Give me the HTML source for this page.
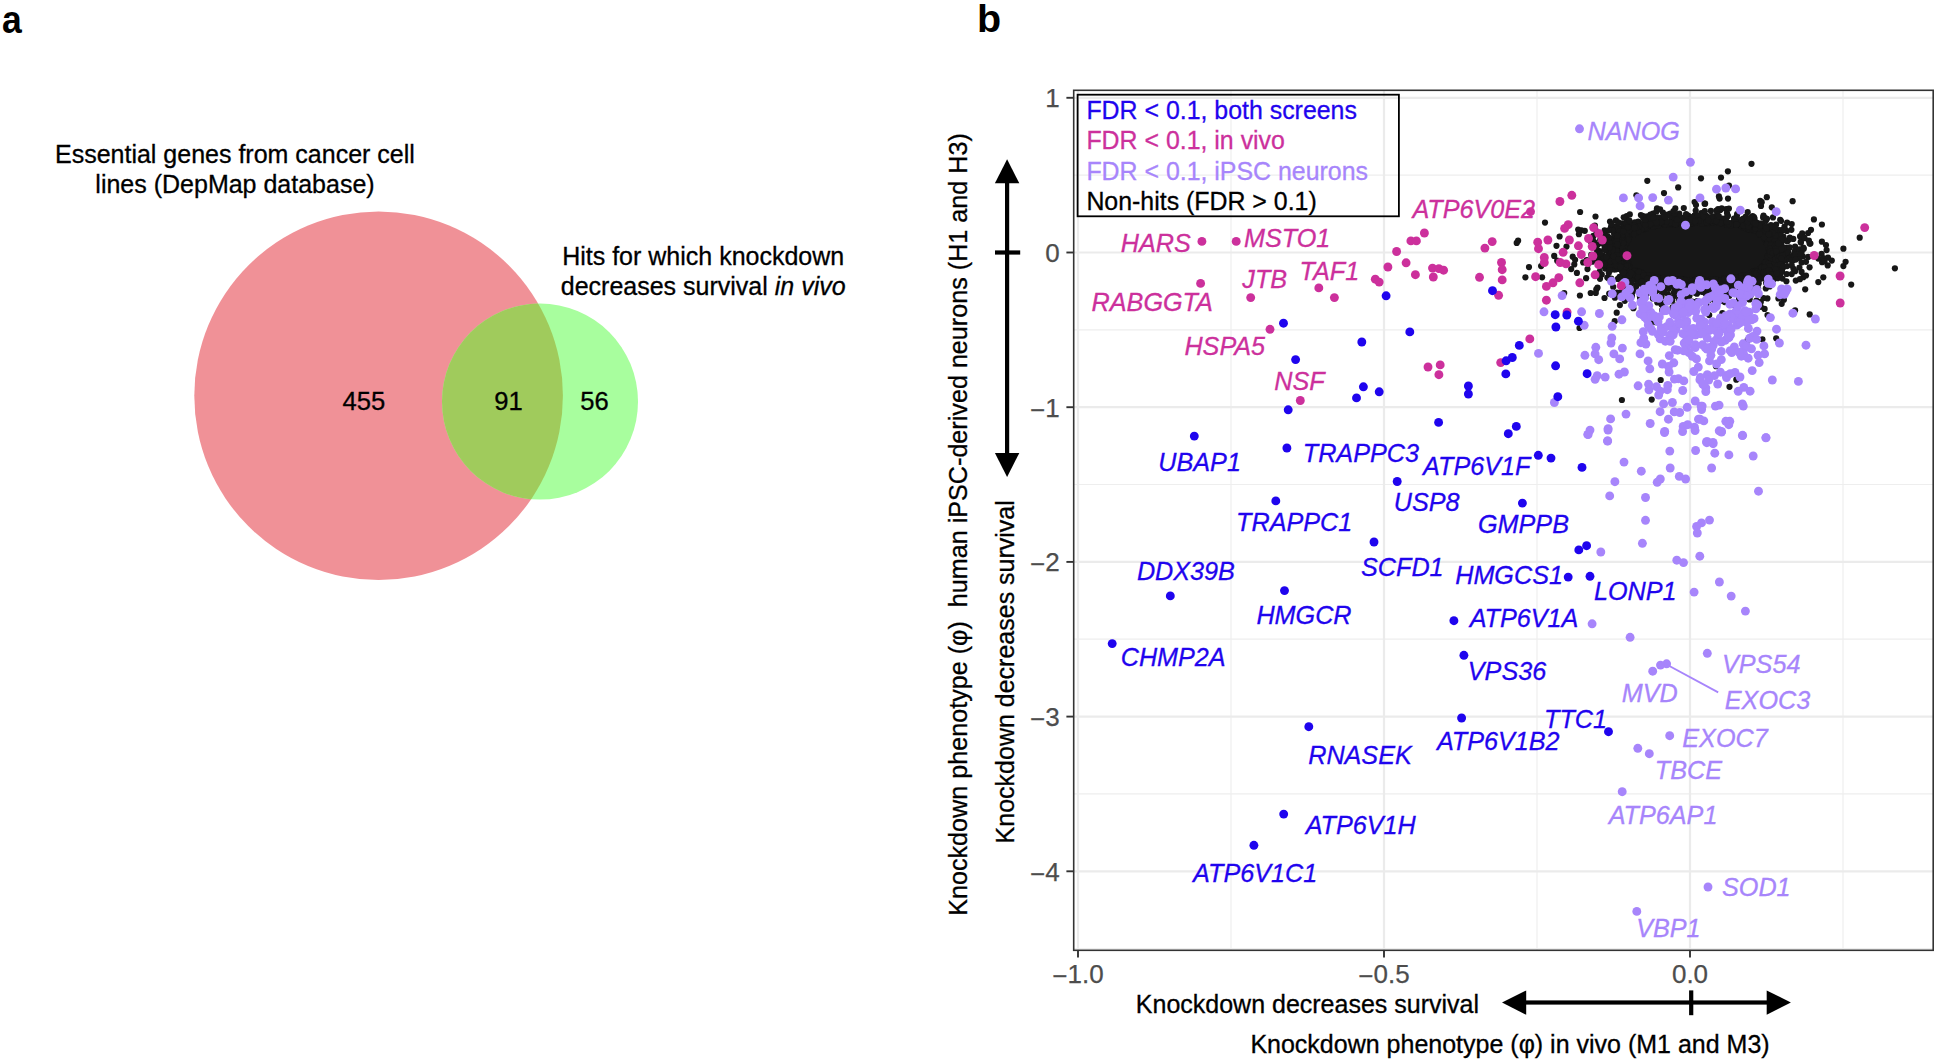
<!DOCTYPE html>
<html lang="en"><head><meta charset="utf-8"><title>Figure</title>
<style>
html,body{margin:0;padding:0;background:#fff;}
body{width:1937px;height:1061px;overflow:hidden;}
svg{display:block;}
text{font-family:"Liberation Sans",Arial,Helvetica,sans-serif;}
.lab{font-style:italic;font-size:25.2px;stroke-width:.3px;}
.ax{font-size:26px;fill:#4d4d4d;stroke:#4d4d4d;stroke-width:.25px;}
.t{font-size:25px;fill:#000;stroke:#000;stroke-width:.3px;}
.leg{font-size:24.9px;stroke-width:.3px;}
.pl{font-weight:bold;font-size:39.5px;fill:#000;}
.n{font-size:25.6px;fill:#000;stroke:#000;stroke-width:.3px;}
.k{fill:#171717;}
.p{fill:#a785fb;}
.m{fill:#cc309c;}
.b{fill:#1f04ee;}
</style></head><body>
<svg width="1937" height="1061" viewBox="0 0 1937 1061">
<rect width="1937" height="1061" fill="#fff"/>
<g id="venn">
<text class="pl" transform="translate(1.9 32.7) scale(0.9 1)">a</text>
<defs><clipPath id="cr"><circle cx="378.6" cy="395.8" r="184.3"/></clipPath></defs>
<circle cx="378.6" cy="395.8" r="184.3" fill="#f09197"/>
<circle cx="540.0" cy="401.6" r="98.0" fill="#a8fe9e"/>
<circle cx="540.0" cy="401.6" r="98.0" fill="#a0cb5c" clip-path="url(#cr)"/>
<text class="t" text-anchor="middle" x="234.9" y="163.3">Essential genes from cancer cell</text>
<text class="t" text-anchor="middle" x="235" y="192.5">lines (DepMap database)</text>
<text class="t" text-anchor="middle" x="703.2" y="265.3">Hits for which knockdown</text>
<text class="t" text-anchor="middle" x="703.2" y="294.5">decreases survival <tspan font-style="italic">in vivo</tspan></text>
<text class="n" text-anchor="middle" x="363.8" y="409.5">455</text>
<text class="n" text-anchor="middle" x="508.5" y="409.5">91</text>
<text class="n" text-anchor="middle" x="594.6" y="409.5">56</text>
</g>
<g id="scatter">
<text class="pl" x="976.9" y="32">b</text>
<g stroke="#eeeeee" stroke-width="1.2" fill="none">
<path d="M1231 90.3V950.3"/>
<path d="M1537 90.3V950.3"/>
<path d="M1843 90.3V950.3"/>
<path d="M1073.7 175.2H1933.2"/>
<path d="M1073.7 329.9H1933.2"/>
<path d="M1073.7 484.5H1933.2"/>
<path d="M1073.7 639.2H1933.2"/>
<path d="M1073.7 793.9H1933.2"/>
<path d="M1073.7 948.6H1933.2"/>
</g>
<g stroke="#ebebeb" stroke-width="2.2" fill="none">
<path d="M1078 90.3V950.3"/>
<path d="M1384 90.3V950.3"/>
<path d="M1690 90.3V950.3"/>
<path d="M1073.7 97.8H1933.2"/>
<path d="M1073.7 252.5H1933.2"/>
<path d="M1073.7 407.2H1933.2"/>
<path d="M1073.7 561.9H1933.2"/>
<path d="M1073.7 716.6H1933.2"/>
<path d="M1073.7 871.3H1933.2"/>
</g>
<g class="k">
<path d="M1770.9 251.5L1770.8 255.2L1770.3 257.8L1769.6 260.1L1768.7 262.2L1767.4 264.2L1765.9 266L1764.1 267.7L1762 269.3L1759.7 270.7L1757.1 272.1L1754.2 273.4L1751.1 274.5L1747.7 275.6L1744.1 276.5L1740.1 277.4L1735.9 278.2L1731.5 278.8L1726.6 279.3L1721.5 279.8L1715.8 280.1L1709.6 280.3L1702.1 280.4L1690.9 280.4L1683.4 280.3L1677.2 280.1L1671.5 279.8L1666.4 279.3L1661.5 278.8L1657.1 278.2L1652.9 277.4L1648.9 276.5L1645.3 275.6L1641.9 274.5L1638.8 273.4L1635.9 272.1L1633.3 270.7L1631 269.3L1628.9 267.7L1627.1 266L1625.6 264.2L1624.3 262.2L1623.4 260.1L1622.7 257.8L1622.2 255.2L1622.1 251.5L1622.2 247.8L1622.7 245.2L1623.4 242.9L1624.3 240.8L1625.6 238.8L1627.1 237L1628.9 235.3L1631 233.7L1633.3 232.3L1635.9 230.9L1638.8 229.6L1641.9 228.5L1645.3 227.4L1648.9 226.5L1652.9 225.6L1657.1 224.8L1661.5 224.2L1666.4 223.7L1671.5 223.2L1677.2 222.9L1683.4 222.7L1690.9 222.6L1702.1 222.6L1709.6 222.7L1715.8 222.9L1721.5 223.2L1726.6 223.7L1731.5 224.2L1735.9 224.8L1740.1 225.6L1744.1 226.5L1747.7 227.4L1751.1 228.5L1754.2 229.6L1757.1 230.9L1759.7 232.3L1762 233.7L1764.1 235.3L1765.9 237L1767.4 238.8L1768.7 240.8L1769.6 242.9L1770.3 245.2L1770.8 247.8Z"/>
<circle cx="1624.5" cy="272.3" r="3.1"/>
<circle cx="1695.4" cy="223" r="3.1"/>
<circle cx="1726.2" cy="209" r="3.1"/>
<circle cx="1755.8" cy="229.5" r="3.1"/>
<circle cx="1683.4" cy="220.7" r="3.1"/>
<circle cx="1755.2" cy="227.1" r="3.1"/>
<circle cx="1621.3" cy="233.3" r="3.1"/>
<circle cx="1760.1" cy="224.4" r="3.1"/>
<circle cx="1615.9" cy="269.2" r="3.1"/>
<circle cx="1650.4" cy="225.2" r="3.1"/>
<circle cx="1635.6" cy="279.2" r="3.1"/>
<circle cx="1625.7" cy="258.8" r="3.1"/>
<circle cx="1768.5" cy="241.6" r="3.1"/>
<circle cx="1667.4" cy="214.7" r="3.1"/>
<circle cx="1713.6" cy="219.5" r="3.1"/>
<circle cx="1780.9" cy="269.4" r="3.1"/>
<circle cx="1771.9" cy="229.8" r="3.1"/>
<circle cx="1620.5" cy="261.6" r="3.1"/>
<circle cx="1788.2" cy="252.1" r="3.1"/>
<circle cx="1615.5" cy="255" r="3.1"/>
<circle cx="1701.3" cy="213.2" r="3.1"/>
<circle cx="1671.6" cy="224.3" r="3.1"/>
<circle cx="1716.3" cy="218.3" r="3.1"/>
<circle cx="1651" cy="217.6" r="3.1"/>
<circle cx="1604.7" cy="234.4" r="3.1"/>
<circle cx="1772.5" cy="280.1" r="3.1"/>
<circle cx="1628.2" cy="274.4" r="3.1"/>
<circle cx="1622.1" cy="223.3" r="3.1"/>
<circle cx="1615.7" cy="245.9" r="3.1"/>
<circle cx="1744.3" cy="225.9" r="3.1"/>
<circle cx="1694.5" cy="279.2" r="3.1"/>
<circle cx="1673.6" cy="285.7" r="3.1"/>
<circle cx="1617.1" cy="261.1" r="3.1"/>
<circle cx="1641.5" cy="283.9" r="3.1"/>
<circle cx="1772.4" cy="253.5" r="3.1"/>
<circle cx="1636.1" cy="270.1" r="3.1"/>
<circle cx="1726.5" cy="283.7" r="3.1"/>
<circle cx="1723.3" cy="220.2" r="3.1"/>
<circle cx="1659.2" cy="224.2" r="3.1"/>
<circle cx="1620.2" cy="244.1" r="3.1"/>
<circle cx="1608.6" cy="251.8" r="3.1"/>
<circle cx="1657.1" cy="225.7" r="3.1"/>
<circle cx="1698.3" cy="279.4" r="3.1"/>
<circle cx="1778.7" cy="247.9" r="3.1"/>
<circle cx="1654.2" cy="222.5" r="3.1"/>
<circle cx="1762" cy="270.2" r="3.1"/>
<circle cx="1659.6" cy="222.1" r="3.1"/>
<circle cx="1617.6" cy="256.5" r="3.1"/>
<circle cx="1608.2" cy="260.3" r="3.1"/>
<circle cx="1655.3" cy="285.6" r="3.1"/>
<circle cx="1767.3" cy="256.8" r="3.1"/>
<circle cx="1726.9" cy="224.4" r="3.1"/>
<circle cx="1741.3" cy="275.9" r="3.1"/>
<circle cx="1766.4" cy="265.1" r="3.1"/>
<circle cx="1730.6" cy="224.9" r="3.1"/>
<circle cx="1601.5" cy="262.4" r="3.1"/>
<circle cx="1770.3" cy="252.6" r="3.1"/>
<circle cx="1711" cy="279.1" r="3.1"/>
<circle cx="1740.6" cy="280.7" r="3.1"/>
<circle cx="1653.9" cy="276.5" r="3.1"/>
<circle cx="1636.6" cy="227.5" r="3.1"/>
<circle cx="1615.9" cy="232.1" r="3.1"/>
<circle cx="1766.4" cy="240.5" r="3.1"/>
<circle cx="1731.4" cy="225.1" r="3.1"/>
<circle cx="1736.9" cy="283.9" r="3.1"/>
<circle cx="1653.2" cy="276.5" r="3.1"/>
<circle cx="1673.8" cy="224.3" r="3.1"/>
<circle cx="1769.2" cy="254.5" r="3.1"/>
<circle cx="1721.2" cy="282.5" r="3.1"/>
<circle cx="1773.5" cy="243.8" r="3.1"/>
<circle cx="1756" cy="274.3" r="3.1"/>
<circle cx="1768.6" cy="247.8" r="3.1"/>
<circle cx="1733.1" cy="285.8" r="3.1"/>
<circle cx="1743.1" cy="227.2" r="3.1"/>
<circle cx="1741.5" cy="276.7" r="3.1"/>
<circle cx="1605" cy="259.7" r="3.1"/>
<circle cx="1766.1" cy="262.3" r="3.1"/>
<circle cx="1616.6" cy="252.3" r="3.1"/>
<circle cx="1655.8" cy="278.9" r="3.1"/>
<circle cx="1703.4" cy="280.6" r="3.1"/>
<circle cx="1822.1" cy="262.2" r="3.1"/>
<circle cx="1616.8" cy="247.6" r="3.1"/>
<circle cx="1683" cy="282.3" r="3.1"/>
<circle cx="1649.9" cy="217.9" r="3.1"/>
<circle cx="1753.5" cy="271.8" r="3.1"/>
<circle cx="1666.8" cy="222" r="3.1"/>
<circle cx="1728.6" cy="284.3" r="3.1"/>
<circle cx="1656.6" cy="277.8" r="3.1"/>
<circle cx="1684.4" cy="221" r="3.1"/>
<circle cx="1754" cy="286.2" r="3.1"/>
<circle cx="1618.6" cy="236.6" r="3.1"/>
<circle cx="1716.2" cy="285.3" r="3.1"/>
<circle cx="1617.9" cy="278.9" r="3.1"/>
<circle cx="1625.5" cy="265.9" r="3.1"/>
<circle cx="1730.6" cy="279.4" r="3.1"/>
<circle cx="1625.3" cy="223.9" r="3.1"/>
<circle cx="1620.5" cy="232.8" r="3.1"/>
<circle cx="1760.8" cy="269.9" r="3.1"/>
<circle cx="1760.8" cy="227.6" r="3.1"/>
<circle cx="1636.3" cy="276.2" r="3.1"/>
<circle cx="1632.3" cy="231.6" r="3.1"/>
<circle cx="1740.8" cy="282" r="3.1"/>
<circle cx="1632.8" cy="230.6" r="3.1"/>
<circle cx="1722.1" cy="222.3" r="3.1"/>
<circle cx="1645.6" cy="228.3" r="3.1"/>
<circle cx="1649.4" cy="225.8" r="3.1"/>
<circle cx="1730.6" cy="277.8" r="3.1"/>
<circle cx="1778.3" cy="250.6" r="3.1"/>
<circle cx="1771.8" cy="265.1" r="3.1"/>
<circle cx="1662.2" cy="223.3" r="3.1"/>
<circle cx="1633.6" cy="272.1" r="3.1"/>
<circle cx="1728.4" cy="278.1" r="3.1"/>
<circle cx="1612.5" cy="260.2" r="3.1"/>
<circle cx="1636.8" cy="226.4" r="3.1"/>
<circle cx="1592" cy="259.3" r="3.1"/>
<circle cx="1617" cy="227" r="3.1"/>
<circle cx="1772" cy="243.8" r="3.1"/>
<circle cx="1748.3" cy="274.3" r="3.1"/>
<circle cx="1617.3" cy="257.4" r="3.1"/>
<circle cx="1768.1" cy="229.4" r="3.1"/>
<circle cx="1620.4" cy="277" r="3.1"/>
<circle cx="1775.2" cy="230.8" r="3.1"/>
<circle cx="1769.7" cy="254.6" r="3.1"/>
<circle cx="1773.4" cy="242.7" r="3.1"/>
<circle cx="1774.2" cy="276.3" r="3.1"/>
<circle cx="1605.2" cy="268.6" r="3.1"/>
<circle cx="1754.9" cy="228" r="3.1"/>
<circle cx="1728.7" cy="278.4" r="3.1"/>
<circle cx="1623.6" cy="235.4" r="3.1"/>
<circle cx="1783.4" cy="253.1" r="3.1"/>
<circle cx="1744.2" cy="226" r="3.1"/>
<circle cx="1665.7" cy="224" r="3.1"/>
<circle cx="1622.4" cy="267.9" r="3.1"/>
<circle cx="1751.7" cy="277.9" r="3.1"/>
<circle cx="1653.8" cy="226.6" r="3.1"/>
<circle cx="1612.1" cy="243.4" r="3.1"/>
<circle cx="1635.5" cy="223.4" r="3.1"/>
<circle cx="1593.4" cy="235.8" r="3.1"/>
<circle cx="1721.6" cy="221.4" r="3.1"/>
<circle cx="1741" cy="277.1" r="3.1"/>
<circle cx="1648.1" cy="221.4" r="3.1"/>
<circle cx="1597.7" cy="260.5" r="3.1"/>
<circle cx="1786.9" cy="251.2" r="3.1"/>
<circle cx="1760.2" cy="269.4" r="3.1"/>
<circle cx="1716.9" cy="280" r="3.1"/>
<circle cx="1724" cy="222.5" r="3.1"/>
<circle cx="1619.4" cy="232.8" r="3.1"/>
<circle cx="1735.5" cy="280.3" r="3.1"/>
<circle cx="1673.5" cy="282.5" r="3.1"/>
<circle cx="1764.8" cy="235.3" r="3.1"/>
<circle cx="1648.9" cy="224.4" r="3.1"/>
<circle cx="1629.2" cy="272.3" r="3.1"/>
<circle cx="1683.1" cy="221.3" r="3.1"/>
<circle cx="1703.7" cy="284.4" r="3.1"/>
<circle cx="1679.3" cy="213.7" r="3.1"/>
<circle cx="1598.4" cy="251" r="3.1"/>
<circle cx="1682.6" cy="286.7" r="3.1"/>
<circle cx="1619.9" cy="264.5" r="3.1"/>
<circle cx="1764.1" cy="271.1" r="3.1"/>
<circle cx="1690.7" cy="282.1" r="3.1"/>
<circle cx="1758.2" cy="275.3" r="3.1"/>
<circle cx="1763.2" cy="268.3" r="3.1"/>
<circle cx="1729.4" cy="295.8" r="3.1"/>
<circle cx="1781.4" cy="244.9" r="3.1"/>
<circle cx="1708.5" cy="286.2" r="3.1"/>
<circle cx="1691.5" cy="221.7" r="3.1"/>
<circle cx="1725.3" cy="219.2" r="3.1"/>
<circle cx="1718.7" cy="222.5" r="3.1"/>
<circle cx="1685.5" cy="220.4" r="3.1"/>
<circle cx="1757.1" cy="222.8" r="3.1"/>
<circle cx="1620.4" cy="265.1" r="3.1"/>
<circle cx="1743" cy="222.8" r="3.1"/>
<circle cx="1749.3" cy="223.9" r="3.1"/>
<circle cx="1648.4" cy="275.2" r="3.1"/>
<circle cx="1771.9" cy="237.5" r="3.1"/>
<circle cx="1770.7" cy="235.7" r="3.1"/>
<circle cx="1772.7" cy="242.3" r="3.1"/>
<circle cx="1633.7" cy="273" r="3.1"/>
<circle cx="1690.6" cy="223.7" r="3.1"/>
<circle cx="1712.3" cy="222.3" r="3.1"/>
<circle cx="1711.7" cy="219.9" r="3.1"/>
<circle cx="1751.6" cy="282.7" r="3.1"/>
<circle cx="1656.5" cy="278.7" r="3.1"/>
<circle cx="1769" cy="262.3" r="3.1"/>
<circle cx="1774.3" cy="235.9" r="3.1"/>
<circle cx="1679.6" cy="279.3" r="3.1"/>
<circle cx="1612.2" cy="258.1" r="3.1"/>
<circle cx="1607.1" cy="259.6" r="3.1"/>
<circle cx="1782.8" cy="261" r="3.1"/>
<circle cx="1632.8" cy="272.8" r="3.1"/>
<circle cx="1626.1" cy="283.5" r="3.1"/>
<circle cx="1642" cy="227.8" r="3.1"/>
<circle cx="1755.9" cy="273.9" r="3.1"/>
<circle cx="1660.1" cy="278" r="3.1"/>
<circle cx="1686" cy="280.6" r="3.1"/>
<circle cx="1773.4" cy="239.9" r="3.1"/>
<circle cx="1700.4" cy="281" r="3.1"/>
<circle cx="1618.4" cy="267.9" r="3.1"/>
<circle cx="1672.7" cy="279.4" r="3.1"/>
<circle cx="1629.9" cy="268.3" r="3.1"/>
<circle cx="1616.1" cy="260" r="3.1"/>
<circle cx="1668" cy="278.7" r="3.1"/>
<circle cx="1622.2" cy="275.6" r="3.1"/>
<circle cx="1634.5" cy="274.9" r="3.1"/>
<circle cx="1679.5" cy="281.1" r="3.1"/>
<circle cx="1793.5" cy="268.8" r="3.1"/>
<circle cx="1625" cy="245.5" r="3.1"/>
<circle cx="1767.7" cy="239.1" r="3.1"/>
<circle cx="1646.4" cy="224.3" r="3.1"/>
<circle cx="1619.1" cy="262.6" r="3.1"/>
<circle cx="1642.1" cy="228.4" r="3.1"/>
<circle cx="1775.6" cy="253.7" r="3.1"/>
<circle cx="1753.1" cy="271.9" r="3.1"/>
<circle cx="1769.1" cy="252.3" r="3.1"/>
<circle cx="1610" cy="221.5" r="3.1"/>
<circle cx="1610.2" cy="268.6" r="3.1"/>
<circle cx="1760.5" cy="270.1" r="3.1"/>
<circle cx="1784.1" cy="247.8" r="3.1"/>
<circle cx="1647.2" cy="216.3" r="3.1"/>
<circle cx="1727.1" cy="216.8" r="3.1"/>
<circle cx="1629.2" cy="265.9" r="3.1"/>
<circle cx="1763.8" cy="267.9" r="3.1"/>
<circle cx="1624.2" cy="259.5" r="3.1"/>
<circle cx="1752.7" cy="225.1" r="3.1"/>
<circle cx="1606.2" cy="248.7" r="3.1"/>
<circle cx="1731.4" cy="223.4" r="3.1"/>
<circle cx="1686.3" cy="218.7" r="3.1"/>
<circle cx="1688.1" cy="215.5" r="3.1"/>
<circle cx="1619.4" cy="260.6" r="3.1"/>
<circle cx="1777" cy="249.9" r="3.1"/>
<circle cx="1767" cy="272.2" r="3.1"/>
<circle cx="1743.6" cy="283.3" r="3.1"/>
<circle cx="1667.2" cy="282.1" r="3.1"/>
<circle cx="1598.1" cy="257.6" r="3.1"/>
<circle cx="1620.8" cy="238.3" r="3.1"/>
<circle cx="1769.2" cy="273.5" r="3.1"/>
<circle cx="1695" cy="282.1" r="3.1"/>
<circle cx="1781.8" cy="260.3" r="3.1"/>
<circle cx="1783.4" cy="236.7" r="3.1"/>
<circle cx="1638.3" cy="221.6" r="3.1"/>
<circle cx="1686.1" cy="281" r="3.1"/>
<circle cx="1765.9" cy="262.4" r="3.1"/>
<circle cx="1615.5" cy="253" r="3.1"/>
<circle cx="1696" cy="205" r="3.1"/>
<circle cx="1676.2" cy="223.7" r="3.1"/>
<circle cx="1704.1" cy="288" r="3.1"/>
<circle cx="1761" cy="276.9" r="3.1"/>
<circle cx="1620" cy="247" r="3.1"/>
<circle cx="1658.3" cy="277.2" r="3.1"/>
<circle cx="1635.2" cy="272.3" r="3.1"/>
<circle cx="1775.4" cy="247.9" r="3.1"/>
<circle cx="1634.8" cy="222.3" r="3.1"/>
<circle cx="1638.1" cy="271.7" r="3.1"/>
<circle cx="1718.1" cy="209" r="3.1"/>
<circle cx="1622.9" cy="263.6" r="3.1"/>
<circle cx="1766.9" cy="240.1" r="3.1"/>
<circle cx="1628.1" cy="228.5" r="3.1"/>
<circle cx="1639.1" cy="273.6" r="3.1"/>
<circle cx="1753.6" cy="228.2" r="3.1"/>
<circle cx="1804.5" cy="238.2" r="3.1"/>
<circle cx="1776.3" cy="247.5" r="3.1"/>
<circle cx="1680.3" cy="281.5" r="3.1"/>
<circle cx="1712.8" cy="222.3" r="3.1"/>
<circle cx="1769.8" cy="262.6" r="3.1"/>
<circle cx="1613.6" cy="239.3" r="3.1"/>
<circle cx="1592.2" cy="261.7" r="3.1"/>
<circle cx="1615.5" cy="226.6" r="3.1"/>
<circle cx="1640.9" cy="228.2" r="3.1"/>
<circle cx="1751" cy="277.4" r="3.1"/>
<circle cx="1701" cy="281.7" r="3.1"/>
<circle cx="1626.4" cy="266.4" r="3.1"/>
<circle cx="1793.3" cy="238.9" r="3.1"/>
<circle cx="1701.5" cy="219.1" r="3.1"/>
<circle cx="1624.6" cy="266.6" r="3.1"/>
<circle cx="1708.8" cy="281.1" r="3.1"/>
<circle cx="1623.4" cy="259.4" r="3.1"/>
<circle cx="1774.7" cy="263" r="3.1"/>
<circle cx="1603.9" cy="262.7" r="3.1"/>
<circle cx="1649.6" cy="283.1" r="3.1"/>
<circle cx="1642.2" cy="229.7" r="3.1"/>
<circle cx="1657" cy="208.3" r="3.1"/>
<circle cx="1774" cy="267" r="3.1"/>
<circle cx="1622.6" cy="229.7" r="3.1"/>
<circle cx="1727" cy="213" r="3.1"/>
<circle cx="1754.7" cy="277.7" r="3.1"/>
<circle cx="1622.8" cy="263.7" r="3.1"/>
<circle cx="1635.7" cy="271.2" r="3.1"/>
<circle cx="1769.8" cy="263.7" r="3.1"/>
<circle cx="1709.2" cy="217.6" r="3.1"/>
<circle cx="1627.6" cy="239" r="3.1"/>
<circle cx="1631.9" cy="277.2" r="3.1"/>
<circle cx="1717.1" cy="218" r="3.1"/>
<circle cx="1693.9" cy="284.1" r="3.1"/>
<circle cx="1768.3" cy="255.7" r="3.1"/>
<circle cx="1775.2" cy="247.7" r="3.1"/>
<circle cx="1702" cy="281.9" r="3.1"/>
<circle cx="1771.2" cy="252" r="3.1"/>
<circle cx="1681.9" cy="279.4" r="3.1"/>
<circle cx="1698.8" cy="216.8" r="3.1"/>
<circle cx="1675.2" cy="219" r="3.1"/>
<circle cx="1764.8" cy="268.4" r="3.1"/>
<circle cx="1653" cy="279.9" r="3.1"/>
<circle cx="1670.2" cy="213.6" r="3.1"/>
<circle cx="1591.2" cy="254.9" r="3.1"/>
<circle cx="1753.3" cy="224.7" r="3.1"/>
<circle cx="1616.4" cy="245.8" r="3.1"/>
<circle cx="1602" cy="257.5" r="3.1"/>
<circle cx="1773.4" cy="273.5" r="3.1"/>
<circle cx="1670.5" cy="223.3" r="3.1"/>
<circle cx="1641.1" cy="281.7" r="3.1"/>
<circle cx="1616.3" cy="254.8" r="3.1"/>
<circle cx="1644.4" cy="227.3" r="3.1"/>
<circle cx="1762.7" cy="266" r="3.1"/>
<circle cx="1770.5" cy="282.2" r="3.1"/>
<circle cx="1620.1" cy="257.8" r="3.1"/>
<circle cx="1759.8" cy="269.4" r="3.1"/>
<circle cx="1690" cy="283.8" r="3.1"/>
<circle cx="1753.4" cy="226" r="3.1"/>
<circle cx="1763.1" cy="268.2" r="3.1"/>
<circle cx="1767.8" cy="268.8" r="3.1"/>
<circle cx="1645.3" cy="225.2" r="3.1"/>
<circle cx="1715.9" cy="281.6" r="3.1"/>
<circle cx="1670.5" cy="223.4" r="3.1"/>
<circle cx="1740.9" cy="225.8" r="3.1"/>
<circle cx="1675.3" cy="208.4" r="3.1"/>
<circle cx="1716.2" cy="220.2" r="3.1"/>
<circle cx="1767.2" cy="271" r="3.1"/>
<circle cx="1649.8" cy="282.3" r="3.1"/>
<circle cx="1609.5" cy="268.3" r="3.1"/>
<circle cx="1683.2" cy="220.7" r="3.1"/>
<circle cx="1777.1" cy="261.9" r="3.1"/>
<circle cx="1649.8" cy="217.7" r="3.1"/>
<circle cx="1609.2" cy="279.1" r="3.1"/>
<circle cx="1618.3" cy="250.4" r="3.1"/>
<circle cx="1620" cy="231.6" r="3.1"/>
<circle cx="1611" cy="227" r="3.1"/>
<circle cx="1724.7" cy="220.1" r="3.1"/>
<circle cx="1739.5" cy="221.2" r="3.1"/>
<circle cx="1684.4" cy="279.6" r="3.1"/>
<circle cx="1631.5" cy="227.5" r="3.1"/>
<circle cx="1717.5" cy="217.5" r="3.1"/>
<circle cx="1777.3" cy="238" r="3.1"/>
<circle cx="1766.2" cy="267.9" r="3.1"/>
<circle cx="1767.5" cy="238.5" r="3.1"/>
<circle cx="1752.7" cy="216.1" r="3.1"/>
<circle cx="1610.1" cy="265.4" r="3.1"/>
<circle cx="1777.3" cy="272.7" r="3.1"/>
<circle cx="1619.6" cy="238.3" r="3.1"/>
<circle cx="1634.6" cy="279" r="3.1"/>
<circle cx="1756" cy="277.1" r="3.1"/>
<circle cx="1703.2" cy="222.5" r="3.1"/>
<circle cx="1684.5" cy="222.3" r="3.1"/>
<circle cx="1676.3" cy="220.4" r="3.1"/>
<circle cx="1627.7" cy="233.3" r="3.1"/>
<circle cx="1746.7" cy="226" r="3.1"/>
<circle cx="1755.3" cy="274" r="3.1"/>
<circle cx="1625.3" cy="238.4" r="3.1"/>
<circle cx="1768.6" cy="232.1" r="3.1"/>
<circle cx="1614.6" cy="244.6" r="3.1"/>
<circle cx="1751.2" cy="228.1" r="3.1"/>
<circle cx="1764.1" cy="235.5" r="3.1"/>
<circle cx="1760" cy="234.4" r="3.1"/>
<circle cx="1618.4" cy="249.7" r="3.1"/>
<circle cx="1705.2" cy="221.7" r="3.1"/>
<circle cx="1671.7" cy="282.1" r="3.1"/>
<circle cx="1651" cy="283.8" r="3.1"/>
<circle cx="1774.6" cy="270.4" r="3.1"/>
<circle cx="1624.9" cy="243.8" r="3.1"/>
<circle cx="1620.1" cy="239.2" r="3.1"/>
<circle cx="1730.2" cy="279.5" r="3.1"/>
<circle cx="1630.6" cy="229.5" r="3.1"/>
<circle cx="1694.7" cy="221.2" r="3.1"/>
<circle cx="1675" cy="220.9" r="3.1"/>
<circle cx="1734.2" cy="221.5" r="3.1"/>
<circle cx="1671.8" cy="281.8" r="3.1"/>
<circle cx="1768.2" cy="258.3" r="3.1"/>
<circle cx="1753" cy="271.9" r="3.1"/>
<circle cx="1706.3" cy="215.9" r="3.1"/>
<circle cx="1672" cy="214.1" r="3.1"/>
<circle cx="1718.9" cy="288.8" r="3.1"/>
<circle cx="1723.6" cy="283.4" r="3.1"/>
<circle cx="1617.9" cy="250.9" r="3.1"/>
<circle cx="1780.5" cy="233.9" r="3.1"/>
<circle cx="1767.8" cy="241.8" r="3.1"/>
<circle cx="1782.4" cy="230.3" r="3.1"/>
<circle cx="1779.1" cy="230.1" r="3.1"/>
<circle cx="1778.2" cy="254.6" r="3.1"/>
<circle cx="1736.5" cy="224.5" r="3.1"/>
<circle cx="1763.7" cy="268.3" r="3.1"/>
<circle cx="1685.3" cy="223" r="3.1"/>
<circle cx="1703.6" cy="279.2" r="3.1"/>
<circle cx="1683.2" cy="280.6" r="3.1"/>
<circle cx="1657.6" cy="224.5" r="3.1"/>
<circle cx="1726.3" cy="278.1" r="3.1"/>
<circle cx="1625.7" cy="243.4" r="3.1"/>
<circle cx="1676.9" cy="223.5" r="3.1"/>
<circle cx="1765.5" cy="228.2" r="3.1"/>
<circle cx="1616.7" cy="235.1" r="3.1"/>
<circle cx="1785" cy="259.8" r="3.1"/>
<circle cx="1623.8" cy="247.1" r="3.1"/>
<circle cx="1787.7" cy="241.1" r="3.1"/>
<circle cx="1751.4" cy="229.7" r="3.1"/>
<circle cx="1767.2" cy="240.7" r="3.1"/>
<circle cx="1765.3" cy="239.3" r="3.1"/>
<circle cx="1772.6" cy="244.5" r="3.1"/>
<circle cx="1774.5" cy="250.2" r="3.1"/>
<circle cx="1705.9" cy="285.6" r="3.1"/>
<circle cx="1604.4" cy="239.2" r="3.1"/>
<circle cx="1741" cy="281.2" r="3.1"/>
<circle cx="1771.5" cy="260.2" r="3.1"/>
<circle cx="1700.4" cy="279.4" r="3.1"/>
<circle cx="1641.5" cy="226.3" r="3.1"/>
<circle cx="1619.4" cy="253" r="3.1"/>
<circle cx="1657.6" cy="284.7" r="3.1"/>
<circle cx="1631.8" cy="232.2" r="3.1"/>
<circle cx="1638.4" cy="280.4" r="3.1"/>
<circle cx="1713.2" cy="219.7" r="3.1"/>
<circle cx="1622.3" cy="228.3" r="3.1"/>
<circle cx="1748.7" cy="284.4" r="3.1"/>
<circle cx="1745.8" cy="228.2" r="3.1"/>
<circle cx="1617.3" cy="250.3" r="3.1"/>
<circle cx="1616.3" cy="237.2" r="3.1"/>
<circle cx="1649.5" cy="224.5" r="3.1"/>
<circle cx="1715" cy="279.7" r="3.1"/>
<circle cx="1764.2" cy="264.1" r="3.1"/>
<circle cx="1691.4" cy="281.8" r="3.1"/>
<circle cx="1664.9" cy="220.5" r="3.1"/>
<circle cx="1665.5" cy="279.9" r="3.1"/>
<circle cx="1652" cy="223.1" r="3.1"/>
<circle cx="1613.5" cy="231.4" r="3.1"/>
<circle cx="1660.5" cy="224" r="3.1"/>
<circle cx="1760.1" cy="223.5" r="3.1"/>
<circle cx="1682" cy="281.2" r="3.1"/>
<circle cx="1610.4" cy="239.5" r="3.1"/>
<circle cx="1766.3" cy="242.1" r="3.1"/>
<circle cx="1750.6" cy="273.3" r="3.1"/>
<circle cx="1607.5" cy="236" r="3.1"/>
<circle cx="1725.2" cy="279.6" r="3.1"/>
<circle cx="1755.7" cy="271.2" r="3.1"/>
<circle cx="1763.9" cy="272.7" r="3.1"/>
<circle cx="1617.1" cy="252.1" r="3.1"/>
<circle cx="1619.4" cy="258.2" r="3.1"/>
<circle cx="1625.4" cy="268.7" r="3.1"/>
<circle cx="1583.2" cy="262.4" r="3.1"/>
<circle cx="1774.5" cy="234.2" r="3.1"/>
<circle cx="1767.8" cy="231.9" r="3.1"/>
<circle cx="1671.4" cy="217.7" r="3.1"/>
<circle cx="1654.8" cy="217.6" r="3.1"/>
<circle cx="1777.7" cy="270.1" r="3.1"/>
<circle cx="1623.1" cy="234.3" r="3.1"/>
<circle cx="1621.6" cy="241.8" r="3.1"/>
<circle cx="1663.8" cy="224.2" r="3.1"/>
<circle cx="1718.9" cy="219" r="3.1"/>
<circle cx="1772.2" cy="239.5" r="3.1"/>
<circle cx="1771.6" cy="244.6" r="3.1"/>
<circle cx="1700.5" cy="220.3" r="3.1"/>
<circle cx="1749.5" cy="275.3" r="3.1"/>
<circle cx="1734.6" cy="290.8" r="3.1"/>
<circle cx="1707.4" cy="223.5" r="3.1"/>
<circle cx="1656.1" cy="285.7" r="3.1"/>
<circle cx="1768.7" cy="247" r="3.1"/>
<circle cx="1610" cy="246.6" r="3.1"/>
<circle cx="1613.2" cy="264.6" r="3.1"/>
<circle cx="1618.2" cy="242" r="3.1"/>
<circle cx="1712.8" cy="282.7" r="3.1"/>
<circle cx="1691.9" cy="280" r="3.1"/>
<circle cx="1671.5" cy="222.9" r="3.1"/>
<circle cx="1763.1" cy="217.4" r="3.1"/>
<circle cx="1672.4" cy="280.6" r="3.1"/>
<circle cx="1749.7" cy="290.1" r="3.1"/>
<circle cx="1601.8" cy="274.6" r="3.1"/>
<circle cx="1608.7" cy="255.6" r="3.1"/>
<circle cx="1786.9" cy="231" r="3.1"/>
<circle cx="1614.4" cy="259.3" r="3.1"/>
<circle cx="1675.7" cy="223.9" r="3.1"/>
<circle cx="1760.4" cy="231.5" r="3.1"/>
<circle cx="1619" cy="237.2" r="3.1"/>
<circle cx="1687.1" cy="286.8" r="3.1"/>
<circle cx="1720.8" cy="280.5" r="3.1"/>
<circle cx="1643.6" cy="224" r="3.1"/>
<circle cx="1707.8" cy="291" r="3.1"/>
<circle cx="1779.7" cy="263.8" r="3.1"/>
<circle cx="1784.5" cy="255.3" r="3.1"/>
<circle cx="1720.6" cy="280.5" r="3.1"/>
<circle cx="1773.3" cy="279.4" r="3.1"/>
<circle cx="1616.8" cy="254.2" r="3.1"/>
<circle cx="1786.7" cy="274" r="3.1"/>
<circle cx="1692.8" cy="220.5" r="3.1"/>
<circle cx="1616.1" cy="259.2" r="3.1"/>
<circle cx="1626.7" cy="216.2" r="3.1"/>
<circle cx="1781.9" cy="264" r="3.1"/>
<circle cx="1759" cy="278.4" r="3.1"/>
<circle cx="1764.5" cy="238.9" r="3.1"/>
<circle cx="1675" cy="280.9" r="3.1"/>
<circle cx="1752.9" cy="225.2" r="3.1"/>
<circle cx="1638.7" cy="277.8" r="3.1"/>
<circle cx="1626.3" cy="243.7" r="3.1"/>
<circle cx="1619.4" cy="268.9" r="3.1"/>
<circle cx="1772.4" cy="244" r="3.1"/>
<circle cx="1684.9" cy="283.2" r="3.1"/>
<circle cx="1766.5" cy="274.2" r="3.1"/>
<circle cx="1645" cy="279.3" r="3.1"/>
<circle cx="1729.7" cy="223.1" r="3.1"/>
<circle cx="1672.7" cy="218.9" r="3.1"/>
<circle cx="1748.6" cy="225.3" r="3.1"/>
<circle cx="1771.2" cy="265.2" r="3.1"/>
<circle cx="1675.2" cy="216.9" r="3.1"/>
<circle cx="1758.2" cy="225" r="3.1"/>
<circle cx="1664" cy="223.4" r="3.1"/>
<circle cx="1688.9" cy="280.1" r="3.1"/>
<circle cx="1686.8" cy="216.3" r="3.1"/>
<circle cx="1733.8" cy="222.2" r="3.1"/>
<circle cx="1607.5" cy="245.9" r="3.1"/>
<circle cx="1622.5" cy="271.9" r="3.1"/>
<circle cx="1607.3" cy="277.6" r="3.1"/>
<circle cx="1642.4" cy="275.9" r="3.1"/>
<circle cx="1622.6" cy="260.6" r="3.1"/>
<circle cx="1689" cy="281" r="3.1"/>
<circle cx="1722.7" cy="218.5" r="3.1"/>
<circle cx="1616.8" cy="248.2" r="3.1"/>
<circle cx="1772.1" cy="235.6" r="3.1"/>
<circle cx="1676.2" cy="224.2" r="3.1"/>
<circle cx="1657.9" cy="223.2" r="3.1"/>
<circle cx="1692.6" cy="223.8" r="3.1"/>
<circle cx="1626.9" cy="236.1" r="3.1"/>
<circle cx="1626.2" cy="270" r="3.1"/>
<circle cx="1598.4" cy="261.5" r="3.1"/>
<circle cx="1684.2" cy="279.5" r="3.1"/>
<circle cx="1687" cy="219.7" r="3.1"/>
<circle cx="1634.2" cy="273" r="3.1"/>
<circle cx="1653.1" cy="277.8" r="3.1"/>
<circle cx="1689.8" cy="287.1" r="3.1"/>
<circle cx="1609.6" cy="262.5" r="3.1"/>
<circle cx="1611.4" cy="247.9" r="3.1"/>
<circle cx="1617.8" cy="245.7" r="3.1"/>
<circle cx="1680.1" cy="222.1" r="3.1"/>
<circle cx="1654.6" cy="284" r="3.1"/>
<circle cx="1776.7" cy="260.1" r="3.1"/>
<circle cx="1774.2" cy="264.9" r="3.1"/>
<circle cx="1625.6" cy="232.9" r="3.1"/>
<circle cx="1780.9" cy="250.8" r="3.1"/>
<circle cx="1769.6" cy="258.5" r="3.1"/>
<circle cx="1750.7" cy="274.1" r="3.1"/>
<circle cx="1630" cy="236.5" r="3.1"/>
<circle cx="1614.4" cy="263" r="3.1"/>
<circle cx="1701.8" cy="215.6" r="3.1"/>
<circle cx="1678" cy="279.7" r="3.1"/>
<circle cx="1618.2" cy="246.3" r="3.1"/>
<circle cx="1705.2" cy="292.6" r="3.1"/>
<circle cx="1779.8" cy="260.6" r="3.1"/>
<circle cx="1761.6" cy="273.5" r="3.1"/>
<circle cx="1766.4" cy="226.2" r="3.1"/>
<circle cx="1622.7" cy="251.2" r="3.1"/>
<circle cx="1772.7" cy="245.6" r="3.1"/>
<circle cx="1687.9" cy="223" r="3.1"/>
<circle cx="1706.2" cy="281.4" r="3.1"/>
<circle cx="1770.5" cy="226.9" r="3.1"/>
<circle cx="1771.9" cy="260.8" r="3.1"/>
<circle cx="1685.5" cy="281.7" r="3.1"/>
<circle cx="1593.3" cy="258.4" r="3.1"/>
<circle cx="1706" cy="222.5" r="3.1"/>
<circle cx="1624" cy="244.9" r="3.1"/>
<circle cx="1652.3" cy="277.1" r="3.1"/>
<circle cx="1663.4" cy="279.4" r="3.1"/>
<circle cx="1713.2" cy="285.5" r="3.1"/>
<circle cx="1719.1" cy="222.6" r="3.1"/>
<circle cx="1705.5" cy="216" r="3.1"/>
<circle cx="1637.9" cy="272.3" r="3.1"/>
<circle cx="1624.7" cy="254.1" r="3.1"/>
<circle cx="1619.1" cy="250.8" r="3.1"/>
<circle cx="1694.5" cy="215.6" r="3.1"/>
<circle cx="1604.3" cy="265.8" r="3.1"/>
<circle cx="1802.8" cy="256.4" r="3.1"/>
<circle cx="1781.5" cy="267.1" r="3.1"/>
<circle cx="1693.2" cy="217.6" r="3.1"/>
<circle cx="1757.3" cy="278.4" r="3.1"/>
<circle cx="1770.6" cy="242.6" r="3.1"/>
<circle cx="1677.2" cy="281.5" r="3.1"/>
<circle cx="1770.3" cy="269.3" r="3.1"/>
<circle cx="1624.2" cy="258.9" r="3.1"/>
<circle cx="1736.1" cy="225" r="3.1"/>
<circle cx="1604.8" cy="259.4" r="3.1"/>
<circle cx="1736.3" cy="278.7" r="3.1"/>
<circle cx="1689.6" cy="216.9" r="3.1"/>
<circle cx="1777.4" cy="260.3" r="3.1"/>
<circle cx="1698.7" cy="223" r="3.1"/>
<circle cx="1782.9" cy="250.5" r="3.1"/>
<circle cx="1730.4" cy="281.2" r="3.1"/>
<circle cx="1652.6" cy="223.7" r="3.1"/>
<circle cx="1642.4" cy="275.8" r="3.1"/>
<circle cx="1766.7" cy="239.1" r="3.1"/>
<circle cx="1626.2" cy="259.7" r="3.1"/>
<circle cx="1637" cy="222.6" r="3.1"/>
<circle cx="1749.5" cy="227.2" r="3.1"/>
<circle cx="1775.1" cy="254" r="3.1"/>
<circle cx="1619.3" cy="252.6" r="3.1"/>
<circle cx="1753.5" cy="230.5" r="3.1"/>
<circle cx="1604.6" cy="230.4" r="3.1"/>
<circle cx="1639.9" cy="274.7" r="3.1"/>
<circle cx="1708.6" cy="221.7" r="3.1"/>
<circle cx="1593.3" cy="246.3" r="3.1"/>
<circle cx="1619.6" cy="276.9" r="3.1"/>
<circle cx="1762.1" cy="223.7" r="3.1"/>
<circle cx="1720.5" cy="292" r="3.1"/>
<circle cx="1680" cy="279" r="3.1"/>
<circle cx="1621.8" cy="245.9" r="3.1"/>
<circle cx="1617.2" cy="253.1" r="3.1"/>
<circle cx="1767.8" cy="241.2" r="3.1"/>
<circle cx="1768.7" cy="241.8" r="3.1"/>
<circle cx="1770.1" cy="241.7" r="3.1"/>
<circle cx="1680.9" cy="279.3" r="3.1"/>
<circle cx="1768.4" cy="280.7" r="3.1"/>
<circle cx="1687.8" cy="281.1" r="3.1"/>
<circle cx="1632.5" cy="273.7" r="3.1"/>
<circle cx="1657.6" cy="282.9" r="3.1"/>
<circle cx="1615.4" cy="227" r="3.1"/>
<circle cx="1678.8" cy="222.4" r="3.1"/>
<circle cx="1639.7" cy="274.1" r="3.1"/>
<circle cx="1719.2" cy="286.5" r="3.1"/>
<circle cx="1764.9" cy="270" r="3.1"/>
<circle cx="1657" cy="283.8" r="3.1"/>
<circle cx="1780.1" cy="254.2" r="3.1"/>
<circle cx="1623.6" cy="238.5" r="3.1"/>
<circle cx="1781.5" cy="252.7" r="3.1"/>
<circle cx="1755.6" cy="227.4" r="3.1"/>
<circle cx="1770.2" cy="248.9" r="3.1"/>
<circle cx="1738.5" cy="279.6" r="3.1"/>
<circle cx="1634.3" cy="272" r="3.1"/>
<circle cx="1773.8" cy="238" r="3.1"/>
<circle cx="1737.9" cy="221.8" r="3.1"/>
<circle cx="1686.9" cy="284.6" r="3.1"/>
<circle cx="1643.5" cy="229.4" r="3.1"/>
<circle cx="1789.1" cy="256.5" r="3.1"/>
<circle cx="1679.5" cy="282.9" r="3.1"/>
<circle cx="1613.9" cy="248.5" r="3.1"/>
<circle cx="1760.5" cy="233.5" r="3.1"/>
<circle cx="1731.4" cy="223.8" r="3.1"/>
<circle cx="1681.6" cy="279.5" r="3.1"/>
<circle cx="1648.7" cy="225.9" r="3.1"/>
<circle cx="1771.6" cy="251.5" r="3.1"/>
<circle cx="1675.6" cy="279.8" r="3.1"/>
<circle cx="1743.2" cy="280.2" r="3.1"/>
<circle cx="1754.4" cy="280.8" r="3.1"/>
<circle cx="1762.2" cy="235" r="3.1"/>
<circle cx="1626.8" cy="272.9" r="3.1"/>
<circle cx="1773.5" cy="255" r="3.1"/>
<circle cx="1768" cy="270.3" r="3.1"/>
<circle cx="1687.5" cy="222.6" r="3.1"/>
<circle cx="1776.6" cy="268.3" r="3.1"/>
<circle cx="1603.5" cy="241.7" r="3.1"/>
<circle cx="1765.8" cy="266.7" r="3.1"/>
<circle cx="1598.3" cy="254.9" r="3.1"/>
<circle cx="1616.5" cy="266.2" r="3.1"/>
<circle cx="1687.8" cy="282" r="3.1"/>
<circle cx="1760.4" cy="272" r="3.1"/>
<circle cx="1646.3" cy="285.5" r="3.1"/>
<circle cx="1617" cy="226.6" r="3.1"/>
<circle cx="1695.5" cy="281.9" r="3.1"/>
<circle cx="1769.8" cy="254.1" r="3.1"/>
<circle cx="1760.6" cy="235" r="3.1"/>
<circle cx="1751.8" cy="277.8" r="3.1"/>
<circle cx="1608.9" cy="249.9" r="3.1"/>
<circle cx="1704.2" cy="285.1" r="3.1"/>
<circle cx="1770.4" cy="252.6" r="3.1"/>
<circle cx="1724.9" cy="278.7" r="3.1"/>
<circle cx="1767.5" cy="243.6" r="3.1"/>
<circle cx="1705.5" cy="282.6" r="3.1"/>
<circle cx="1639.7" cy="228" r="3.1"/>
<circle cx="1734.6" cy="222.1" r="3.1"/>
<circle cx="1777.2" cy="267.2" r="3.1"/>
<circle cx="1622.5" cy="258.3" r="3.1"/>
<circle cx="1773.2" cy="231.7" r="3.1"/>
<circle cx="1647.2" cy="227.1" r="3.1"/>
<circle cx="1743.6" cy="275.2" r="3.1"/>
<circle cx="1754" cy="229.4" r="3.1"/>
<circle cx="1770.9" cy="254.2" r="3.1"/>
<circle cx="1629.5" cy="231.2" r="3.1"/>
<circle cx="1701.9" cy="283.4" r="3.1"/>
<circle cx="1679" cy="221.8" r="3.1"/>
<circle cx="1777" cy="236.7" r="3.1"/>
<circle cx="1743.6" cy="225.9" r="3.1"/>
<circle cx="1651.5" cy="280.3" r="3.1"/>
<circle cx="1753.7" cy="226" r="3.1"/>
<circle cx="1750.4" cy="229.8" r="3.1"/>
<circle cx="1608.5" cy="258.2" r="3.1"/>
<circle cx="1692" cy="280.7" r="3.1"/>
<circle cx="1760.3" cy="228.4" r="3.1"/>
<circle cx="1762.6" cy="269.4" r="3.1"/>
<circle cx="1746.8" cy="276.4" r="3.1"/>
<circle cx="1691.1" cy="220.6" r="3.1"/>
<circle cx="1756.5" cy="272.6" r="3.1"/>
<circle cx="1675.6" cy="218.7" r="3.1"/>
<circle cx="1626.5" cy="236.4" r="3.1"/>
<circle cx="1615.9" cy="220.4" r="3.1"/>
<circle cx="1754.6" cy="230" r="3.1"/>
<circle cx="1657.9" cy="282.6" r="3.1"/>
<circle cx="1700.1" cy="220.2" r="3.1"/>
<circle cx="1715" cy="220.7" r="3.1"/>
<circle cx="1749" cy="275.8" r="3.1"/>
<circle cx="1775.4" cy="264.9" r="3.1"/>
<circle cx="1689.4" cy="219.7" r="3.1"/>
<circle cx="1768.5" cy="248.8" r="3.1"/>
<circle cx="1624.6" cy="268.8" r="3.1"/>
<circle cx="1685.6" cy="284.4" r="3.1"/>
<circle cx="1690.2" cy="223.5" r="3.1"/>
<circle cx="1764.1" cy="267.4" r="3.1"/>
<circle cx="1741.2" cy="278.7" r="3.1"/>
<circle cx="1758.4" cy="272.9" r="3.1"/>
<circle cx="1773" cy="217.4" r="3.1"/>
<circle cx="1646.8" cy="228.4" r="3.1"/>
<circle cx="1645.6" cy="280.1" r="3.1"/>
<circle cx="1621.3" cy="245.9" r="3.1"/>
<circle cx="1628.6" cy="263.7" r="3.1"/>
<circle cx="1610.1" cy="254.5" r="3.1"/>
<circle cx="1715.7" cy="221.7" r="3.1"/>
<circle cx="1626.3" cy="267.1" r="3.1"/>
<circle cx="1651.3" cy="275.7" r="3.1"/>
<circle cx="1764.1" cy="271.7" r="3.1"/>
<circle cx="1773.9" cy="265" r="3.1"/>
<circle cx="1618" cy="232.4" r="3.1"/>
<circle cx="1700.9" cy="280.3" r="3.1"/>
<circle cx="1705.9" cy="284.8" r="3.1"/>
<circle cx="1702.9" cy="285.5" r="3.1"/>
<circle cx="1611.3" cy="278.6" r="3.1"/>
<circle cx="1622.8" cy="233.8" r="3.1"/>
<circle cx="1673.8" cy="286.7" r="3.1"/>
<circle cx="1728" cy="215.8" r="3.1"/>
<circle cx="1748.3" cy="280.1" r="3.1"/>
<circle cx="1759" cy="234.4" r="3.1"/>
<circle cx="1759.1" cy="227.5" r="3.1"/>
<circle cx="1751.4" cy="217.6" r="3.1"/>
<circle cx="1687" cy="221.8" r="3.1"/>
<circle cx="1625.6" cy="243.8" r="3.1"/>
<circle cx="1627" cy="265.5" r="3.1"/>
<circle cx="1609.9" cy="242.9" r="3.1"/>
<circle cx="1715.9" cy="279.4" r="3.1"/>
<circle cx="1624.1" cy="252.5" r="3.1"/>
<circle cx="1781.7" cy="257.5" r="3.1"/>
<circle cx="1707" cy="281.1" r="3.1"/>
<circle cx="1606.2" cy="246.3" r="3.1"/>
<circle cx="1655.5" cy="225.6" r="3.1"/>
<circle cx="1653.2" cy="226.7" r="3.1"/>
<circle cx="1755" cy="271.7" r="3.1"/>
<circle cx="1692.9" cy="280.9" r="3.1"/>
<circle cx="1781.7" cy="238.9" r="3.1"/>
<circle cx="1773.6" cy="269.7" r="3.1"/>
<circle cx="1627.2" cy="263" r="3.1"/>
<circle cx="1774" cy="261.9" r="3.1"/>
<circle cx="1718" cy="217.5" r="3.1"/>
<circle cx="1670.6" cy="278.5" r="3.1"/>
<circle cx="1690.7" cy="279.8" r="3.1"/>
<circle cx="1676.3" cy="286.9" r="3.1"/>
<circle cx="1761.8" cy="229.1" r="3.1"/>
<circle cx="1737" cy="281" r="3.1"/>
<circle cx="1671.7" cy="218.1" r="3.1"/>
<circle cx="1675.4" cy="284.2" r="3.1"/>
<circle cx="1704.7" cy="286.2" r="3.1"/>
<circle cx="1761.5" cy="271.2" r="3.1"/>
<circle cx="1729.4" cy="279.7" r="3.1"/>
<circle cx="1770.7" cy="230.5" r="3.1"/>
<circle cx="1673.6" cy="223.5" r="3.1"/>
<circle cx="1648.5" cy="226" r="3.1"/>
<circle cx="1594.9" cy="225.6" r="3.1"/>
<circle cx="1780.2" cy="253.4" r="3.1"/>
<circle cx="1750" cy="223.6" r="3.1"/>
<circle cx="1776" cy="266.3" r="3.1"/>
<circle cx="1614.5" cy="251.6" r="3.1"/>
<circle cx="1650.3" cy="224.7" r="3.1"/>
<circle cx="1737.1" cy="214.2" r="3.1"/>
<circle cx="1741.1" cy="276.1" r="3.1"/>
<circle cx="1623.6" cy="258.7" r="3.1"/>
<circle cx="1772.6" cy="253.2" r="3.1"/>
<circle cx="1693.5" cy="221.1" r="3.1"/>
<circle cx="1766.3" cy="236.3" r="3.1"/>
<circle cx="1710.9" cy="281" r="3.1"/>
<circle cx="1789.6" cy="238.9" r="3.1"/>
<circle cx="1693.3" cy="222.2" r="3.1"/>
<circle cx="1658.8" cy="225.6" r="3.1"/>
<circle cx="1621" cy="237.1" r="3.1"/>
<circle cx="1618.8" cy="250.2" r="3.1"/>
<circle cx="1647.7" cy="225.8" r="3.1"/>
<circle cx="1662.6" cy="278.6" r="3.1"/>
<circle cx="1770.6" cy="254.6" r="3.1"/>
<circle cx="1638.3" cy="230" r="3.1"/>
<circle cx="1669.5" cy="223" r="3.1"/>
<circle cx="1743.5" cy="218.6" r="3.1"/>
<circle cx="1731.8" cy="278.5" r="3.1"/>
<circle cx="1750.5" cy="276.5" r="3.1"/>
<circle cx="1723.3" cy="219.9" r="3.1"/>
<circle cx="1673.1" cy="278.8" r="3.1"/>
<circle cx="1636" cy="231.2" r="3.1"/>
<circle cx="1667.3" cy="224.8" r="3.1"/>
<circle cx="1776.6" cy="257.3" r="3.1"/>
<circle cx="1774.9" cy="238.5" r="3.1"/>
<circle cx="1688.9" cy="285.2" r="3.1"/>
<circle cx="1706.4" cy="280.6" r="3.1"/>
<circle cx="1664.2" cy="221.4" r="3.1"/>
<circle cx="1774.9" cy="245.1" r="3.1"/>
<circle cx="1687.6" cy="283.2" r="3.1"/>
<circle cx="1628.5" cy="228.4" r="3.1"/>
<circle cx="1780.2" cy="219.8" r="3.1"/>
<circle cx="1613.5" cy="267.6" r="3.1"/>
<circle cx="1768.2" cy="247.4" r="3.1"/>
<circle cx="1772.1" cy="234.2" r="3.1"/>
<circle cx="1625.7" cy="265.6" r="3.1"/>
<circle cx="1624.2" cy="226.2" r="3.1"/>
<circle cx="1734.2" cy="280.7" r="3.1"/>
<circle cx="1657.4" cy="279.1" r="3.1"/>
<circle cx="1688.4" cy="223" r="3.1"/>
<circle cx="1730.5" cy="225.4" r="3.1"/>
<circle cx="1766.9" cy="262.4" r="3.1"/>
<circle cx="1749.8" cy="229.4" r="3.1"/>
<circle cx="1777.2" cy="249.9" r="3.1"/>
<circle cx="1671.6" cy="280" r="3.1"/>
<circle cx="1622.1" cy="252.1" r="3.1"/>
<circle cx="1684.3" cy="283.4" r="3.1"/>
<circle cx="1801.2" cy="253.5" r="3.1"/>
<circle cx="1676.4" cy="292.1" r="3.1"/>
<circle cx="1767.7" cy="240.2" r="3.1"/>
<circle cx="1687.8" cy="215.9" r="3.1"/>
<circle cx="1749.5" cy="282.6" r="3.1"/>
<circle cx="1720.8" cy="281.3" r="3.1"/>
<circle cx="1753.5" cy="274.7" r="3.1"/>
<circle cx="1766.5" cy="268.9" r="3.1"/>
<circle cx="1749.9" cy="227" r="3.1"/>
<circle cx="1750.4" cy="224.6" r="3.1"/>
<circle cx="1616" cy="241" r="3.1"/>
<circle cx="1769.3" cy="260.9" r="3.1"/>
<circle cx="1712" cy="218.2" r="3.1"/>
<circle cx="1665.3" cy="221.7" r="3.1"/>
<circle cx="1773.4" cy="260.1" r="3.1"/>
<circle cx="1625.7" cy="266.8" r="3.1"/>
<circle cx="1774.5" cy="273.1" r="3.1"/>
<circle cx="1764.8" cy="271.6" r="3.1"/>
<circle cx="1764.5" cy="265.2" r="3.1"/>
<circle cx="1736.6" cy="222" r="3.1"/>
<circle cx="1784.4" cy="255" r="3.1"/>
<circle cx="1760.1" cy="229.5" r="3.1"/>
<circle cx="1652.8" cy="215.5" r="3.1"/>
<circle cx="1757" cy="270" r="3.1"/>
<circle cx="1787" cy="241" r="3.1"/>
<circle cx="1661.5" cy="221.1" r="3.1"/>
<circle cx="1757.2" cy="271.7" r="3.1"/>
<circle cx="1748.2" cy="277.7" r="3.1"/>
<circle cx="1782.6" cy="259.3" r="3.1"/>
<circle cx="1792.8" cy="260.4" r="3.1"/>
<circle cx="1778.6" cy="237.5" r="3.1"/>
<circle cx="1727.2" cy="224.7" r="3.1"/>
<circle cx="1651.6" cy="222.8" r="3.1"/>
<circle cx="1769.4" cy="236.1" r="3.1"/>
<circle cx="1764.8" cy="263.9" r="3.1"/>
<circle cx="1639" cy="271.8" r="3.1"/>
<circle cx="1634" cy="223.4" r="3.1"/>
<circle cx="1653" cy="213.7" r="3.1"/>
<circle cx="1643.8" cy="227.6" r="3.1"/>
<circle cx="1610.9" cy="242.6" r="3.1"/>
<circle cx="1656.6" cy="281" r="3.1"/>
<circle cx="1721.2" cy="280.2" r="3.1"/>
<circle cx="1736.8" cy="216.1" r="3.1"/>
<circle cx="1747" cy="225.1" r="3.1"/>
<circle cx="1637" cy="228.1" r="3.1"/>
<circle cx="1667.9" cy="285.7" r="3.1"/>
<circle cx="1632.4" cy="227.8" r="3.1"/>
<circle cx="1742.4" cy="280.8" r="3.1"/>
<circle cx="1729.9" cy="283.8" r="3.1"/>
<circle cx="1771" cy="241.5" r="3.1"/>
<circle cx="1774.8" cy="241.7" r="3.1"/>
<circle cx="1629.6" cy="268.3" r="3.1"/>
<circle cx="1736.8" cy="281.7" r="3.1"/>
<circle cx="1651.1" cy="275.7" r="3.1"/>
<circle cx="1682" cy="220" r="3.1"/>
<circle cx="1749.3" cy="278.4" r="3.1"/>
<circle cx="1615.5" cy="269.2" r="3.1"/>
<circle cx="1628.6" cy="268.1" r="3.1"/>
<circle cx="1641.5" cy="272.7" r="3.1"/>
<circle cx="1749.4" cy="220.4" r="3.1"/>
<circle cx="1672.4" cy="222.1" r="3.1"/>
<circle cx="1633.3" cy="233.5" r="3.1"/>
<circle cx="1649.8" cy="222.2" r="3.1"/>
<circle cx="1635.3" cy="226.2" r="3.1"/>
<circle cx="1770.8" cy="279.1" r="3.1"/>
<circle cx="1702.5" cy="222.6" r="3.1"/>
<circle cx="1754.6" cy="220.8" r="3.1"/>
<circle cx="1756.3" cy="224.2" r="3.1"/>
<circle cx="1655.1" cy="278" r="3.1"/>
<circle cx="1736.4" cy="277.1" r="3.1"/>
<circle cx="1634.4" cy="278" r="3.1"/>
<circle cx="1619" cy="235.7" r="3.1"/>
<circle cx="1732.8" cy="277.2" r="3.1"/>
<circle cx="1624.7" cy="237.7" r="3.1"/>
<circle cx="1703.1" cy="218.6" r="3.1"/>
<circle cx="1659.4" cy="218.4" r="3.1"/>
<circle cx="1620.6" cy="262.2" r="3.1"/>
<circle cx="1687.5" cy="281.2" r="3.1"/>
<circle cx="1786.4" cy="247.5" r="3.1"/>
<circle cx="1680" cy="222.8" r="3.1"/>
<circle cx="1678.8" cy="221.3" r="3.1"/>
<circle cx="1762" cy="268.3" r="3.1"/>
<circle cx="1613.6" cy="269.4" r="3.1"/>
<circle cx="1762.1" cy="272.9" r="3.1"/>
<circle cx="1667.5" cy="223.8" r="3.1"/>
<circle cx="1624.4" cy="253.9" r="3.1"/>
<circle cx="1757.1" cy="271.8" r="3.1"/>
<circle cx="1631" cy="233.8" r="3.1"/>
<circle cx="1732.9" cy="280.2" r="3.1"/>
<circle cx="1654.8" cy="279.9" r="3.1"/>
<circle cx="1756.7" cy="274.2" r="3.1"/>
<circle cx="1774.6" cy="262.7" r="3.1"/>
<circle cx="1785" cy="249.4" r="3.1"/>
<circle cx="1768" cy="256.2" r="3.1"/>
<circle cx="1691.3" cy="223.2" r="3.1"/>
<circle cx="1618.1" cy="245.5" r="3.1"/>
<circle cx="1626.7" cy="236.4" r="3.1"/>
<circle cx="1749.2" cy="273.7" r="3.1"/>
<circle cx="1767.3" cy="271.7" r="3.1"/>
<circle cx="1634.7" cy="230.6" r="3.1"/>
<circle cx="1779.4" cy="258" r="3.1"/>
<circle cx="1730.7" cy="291.5" r="3.1"/>
<circle cx="1675" cy="219.5" r="3.1"/>
<circle cx="1747.5" cy="281.5" r="3.1"/>
<circle cx="1599.2" cy="251" r="3.1"/>
<circle cx="1702" cy="223.8" r="3.1"/>
<circle cx="1767.6" cy="234.9" r="3.1"/>
<circle cx="1725.7" cy="220.4" r="3.1"/>
<circle cx="1794.7" cy="251.4" r="3.1"/>
<circle cx="1691.9" cy="221.6" r="3.1"/>
<circle cx="1641.3" cy="229.7" r="3.1"/>
<circle cx="1778.8" cy="262.3" r="3.1"/>
<circle cx="1763" cy="266.6" r="3.1"/>
<circle cx="1633.6" cy="232.1" r="3.1"/>
<circle cx="1678.9" cy="219" r="3.1"/>
<circle cx="1772.2" cy="253.5" r="3.1"/>
<circle cx="1610.8" cy="238.9" r="3.1"/>
<circle cx="1767" cy="244.6" r="3.1"/>
<circle cx="1627" cy="221" r="3.1"/>
<circle cx="1665.5" cy="288.7" r="3.1"/>
<circle cx="1624.4" cy="233.4" r="3.1"/>
<circle cx="1671.9" cy="281.3" r="3.1"/>
<circle cx="1724.2" cy="278.3" r="3.1"/>
<circle cx="1775" cy="228.6" r="3.1"/>
<circle cx="1695.5" cy="287.6" r="3.1"/>
<circle cx="1771.8" cy="230.9" r="3.1"/>
<circle cx="1695" cy="280.3" r="3.1"/>
<circle cx="1779.3" cy="237.4" r="3.1"/>
<circle cx="1770.9" cy="258.5" r="3.1"/>
<circle cx="1666.7" cy="283.8" r="3.1"/>
<circle cx="1615.5" cy="258.6" r="3.1"/>
<circle cx="1703.7" cy="286.4" r="3.1"/>
<circle cx="1609.1" cy="259.8" r="3.1"/>
<circle cx="1694.5" cy="280.5" r="3.1"/>
<circle cx="1766.2" cy="262.7" r="3.1"/>
<circle cx="1622.8" cy="271" r="3.1"/>
<circle cx="1656.4" cy="223.7" r="3.1"/>
<circle cx="1624.3" cy="258.1" r="3.1"/>
<circle cx="1808.1" cy="256.9" r="3.1"/>
<circle cx="1645" cy="227.7" r="3.1"/>
<circle cx="1623.3" cy="252" r="3.1"/>
<circle cx="1600" cy="278.8" r="3.1"/>
<circle cx="1717.5" cy="216.8" r="3.1"/>
<circle cx="1624" cy="243.1" r="3.1"/>
<circle cx="1781.3" cy="230.4" r="3.1"/>
<circle cx="1769.8" cy="253.5" r="3.1"/>
<circle cx="1755.7" cy="228.6" r="3.1"/>
<circle cx="1748.1" cy="229.1" r="3.1"/>
<circle cx="1614.6" cy="249.5" r="3.1"/>
<circle cx="1624.8" cy="248.4" r="3.1"/>
<circle cx="1661" cy="220.1" r="3.1"/>
<circle cx="1601.7" cy="243.3" r="3.1"/>
<circle cx="1751.7" cy="223.5" r="3.1"/>
<circle cx="1736.5" cy="222.8" r="3.1"/>
<circle cx="1707.4" cy="281.1" r="3.1"/>
<circle cx="1636.6" cy="284.7" r="3.1"/>
<circle cx="1628" cy="237.4" r="3.1"/>
<circle cx="1635.3" cy="275.9" r="3.1"/>
<circle cx="1765.7" cy="263.6" r="3.1"/>
<circle cx="1634.4" cy="271.1" r="3.1"/>
<circle cx="1628.3" cy="239.8" r="3.1"/>
<circle cx="1686.8" cy="223.7" r="3.1"/>
<circle cx="1664.8" cy="224.7" r="3.1"/>
<circle cx="1760.4" cy="232.3" r="3.1"/>
<circle cx="1608.5" cy="265.5" r="3.1"/>
<circle cx="1734" cy="282.4" r="3.1"/>
<circle cx="1621.8" cy="244.9" r="3.1"/>
<circle cx="1629.6" cy="224.9" r="3.1"/>
<circle cx="1696.8" cy="285.9" r="3.1"/>
<circle cx="1770.7" cy="245.6" r="3.1"/>
<circle cx="1728.7" cy="223.9" r="3.1"/>
<circle cx="1720.3" cy="210" r="3.1"/>
<circle cx="1674.7" cy="281.7" r="3.1"/>
<circle cx="1642.6" cy="225.2" r="3.1"/>
<circle cx="1785.5" cy="251.3" r="3.1"/>
<circle cx="1611.5" cy="251.6" r="3.1"/>
<circle cx="1666.7" cy="215.8" r="3.1"/>
<circle cx="1756.5" cy="273.3" r="3.1"/>
<circle cx="1736.1" cy="286.6" r="3.1"/>
<circle cx="1762" cy="233.7" r="3.1"/>
<circle cx="1749.3" cy="275.5" r="3.1"/>
<circle cx="1775.6" cy="240.1" r="3.1"/>
<circle cx="1702.8" cy="288.1" r="3.1"/>
<circle cx="1650.5" cy="287.4" r="3.1"/>
<circle cx="1625.7" cy="276.8" r="3.1"/>
<circle cx="1759.2" cy="273.5" r="3.1"/>
<circle cx="1629.8" cy="274.8" r="3.1"/>
<circle cx="1687.3" cy="280.3" r="3.1"/>
<circle cx="1664.6" cy="223.9" r="3.1"/>
<circle cx="1645.3" cy="224.8" r="3.1"/>
<circle cx="1674.2" cy="282.4" r="3.1"/>
<circle cx="1623.4" cy="240.6" r="3.1"/>
<circle cx="1732.2" cy="278.4" r="3.1"/>
<circle cx="1714" cy="220.5" r="3.1"/>
<circle cx="1586.4" cy="262.3" r="3.1"/>
<circle cx="1616.3" cy="242.8" r="3.1"/>
<circle cx="1760.2" cy="278.7" r="3.1"/>
<circle cx="1703.2" cy="216.6" r="3.1"/>
<circle cx="1765.6" cy="262.2" r="3.1"/>
<circle cx="1749.6" cy="224.8" r="3.1"/>
<circle cx="1770.3" cy="227" r="3.1"/>
<circle cx="1662.5" cy="279.7" r="3.1"/>
<circle cx="1613.7" cy="241.7" r="3.1"/>
<circle cx="1681" cy="279.2" r="3.1"/>
<circle cx="1743.3" cy="291.4" r="3.1"/>
<circle cx="1614.6" cy="265.8" r="3.1"/>
<circle cx="1597.9" cy="258.3" r="3.1"/>
<circle cx="1592.7" cy="238.9" r="3.1"/>
<circle cx="1760.2" cy="277.7" r="3.1"/>
<circle cx="1777.8" cy="278.2" r="3.1"/>
<circle cx="1716.4" cy="210.6" r="3.1"/>
<circle cx="1593.6" cy="246.3" r="3.1"/>
<circle cx="1622.1" cy="257.2" r="3.1"/>
<circle cx="1652.3" cy="281.7" r="3.1"/>
<circle cx="1734.2" cy="283.1" r="3.1"/>
<circle cx="1763.5" cy="215.6" r="3.1"/>
<circle cx="1625.2" cy="267" r="3.1"/>
<circle cx="1723.3" cy="287" r="3.1"/>
<circle cx="1648.1" cy="275.2" r="3.1"/>
<circle cx="1770.3" cy="248.5" r="3.1"/>
<circle cx="1747.3" cy="227.6" r="3.1"/>
<circle cx="1627.3" cy="265.3" r="3.1"/>
<circle cx="1605.5" cy="263" r="3.1"/>
<circle cx="1620.1" cy="268.7" r="3.1"/>
<circle cx="1758.7" cy="283.4" r="3.1"/>
<circle cx="1690" cy="221.5" r="3.1"/>
<circle cx="1665.4" cy="219.4" r="3.1"/>
<circle cx="1763.2" cy="270.1" r="3.1"/>
<circle cx="1623.3" cy="242.5" r="3.1"/>
<circle cx="1656" cy="225.6" r="3.1"/>
<circle cx="1760.6" cy="271.1" r="3.1"/>
<circle cx="1615.9" cy="245" r="3.1"/>
<circle cx="1621.9" cy="237.9" r="3.1"/>
<circle cx="1695.2" cy="215.1" r="3.1"/>
<circle cx="1679" cy="284" r="3.1"/>
<circle cx="1629.8" cy="214.4" r="3.1"/>
<circle cx="1761.6" cy="267.6" r="3.1"/>
<circle cx="1742.8" cy="280.9" r="3.1"/>
<circle cx="1733.7" cy="291.4" r="3.1"/>
<circle cx="1622.8" cy="248.7" r="3.1"/>
<circle cx="1670.6" cy="222.8" r="3.1"/>
<circle cx="1721.9" cy="223.1" r="3.1"/>
<circle cx="1774" cy="238.8" r="3.1"/>
<circle cx="1608.5" cy="241.7" r="3.1"/>
<circle cx="1775" cy="245.9" r="3.1"/>
<circle cx="1787.1" cy="251.8" r="3.1"/>
<circle cx="1662.9" cy="212.6" r="3.1"/>
<circle cx="1768.6" cy="263.6" r="3.1"/>
<circle cx="1769.2" cy="238.1" r="3.1"/>
<circle cx="1625.1" cy="251.8" r="3.1"/>
<circle cx="1615.9" cy="263.5" r="3.1"/>
<circle cx="1600.2" cy="240.1" r="3.1"/>
<circle cx="1733.8" cy="278" r="3.1"/>
<circle cx="1668.7" cy="278.3" r="3.1"/>
<circle cx="1784.5" cy="226.7" r="3.1"/>
<circle cx="1662" cy="221.8" r="3.1"/>
<circle cx="1741.4" cy="278.3" r="3.1"/>
<circle cx="1721.2" cy="222.2" r="3.1"/>
<circle cx="1656" cy="223.5" r="3.1"/>
<circle cx="1783.4" cy="256.6" r="3.1"/>
<circle cx="1706.7" cy="222.3" r="3.1"/>
<circle cx="1714.1" cy="284" r="3.1"/>
<circle cx="1663.3" cy="277.9" r="3.1"/>
<circle cx="1691.9" cy="281.6" r="3.1"/>
<circle cx="1764.6" cy="278.2" r="3.1"/>
<circle cx="1784.5" cy="248.6" r="3.1"/>
<circle cx="1616.5" cy="261.9" r="3.1"/>
<circle cx="1622" cy="255" r="3.1"/>
<circle cx="1736.8" cy="224.3" r="3.1"/>
<circle cx="1614.2" cy="255.2" r="3.1"/>
<circle cx="1781.8" cy="264.2" r="3.1"/>
<circle cx="1685.8" cy="280.6" r="3.1"/>
<circle cx="1640.7" cy="275.8" r="3.1"/>
<circle cx="1699.8" cy="280.3" r="3.1"/>
<circle cx="1765" cy="269.6" r="3.1"/>
<circle cx="1718.7" cy="222.8" r="3.1"/>
<circle cx="1693.3" cy="217" r="3.1"/>
<circle cx="1721.9" cy="282.6" r="3.1"/>
<circle cx="1642.8" cy="273.9" r="3.1"/>
<circle cx="1777.3" cy="244.5" r="3.1"/>
<circle cx="1626.5" cy="226.5" r="3.1"/>
<circle cx="1638.9" cy="272" r="3.1"/>
<circle cx="1623.3" cy="243" r="3.1"/>
<circle cx="1767.9" cy="270" r="3.1"/>
<circle cx="1726" cy="285.9" r="3.1"/>
<circle cx="1620.6" cy="236.7" r="3.1"/>
<circle cx="1733.7" cy="292.2" r="3.1"/>
<circle cx="1736.4" cy="224.7" r="3.1"/>
<circle cx="1764" cy="237.3" r="3.1"/>
<circle cx="1738" cy="281.4" r="3.1"/>
<circle cx="1681.3" cy="217.9" r="3.1"/>
<circle cx="1648.9" cy="278" r="3.1"/>
<circle cx="1723.5" cy="279.9" r="3.1"/>
<circle cx="1689.1" cy="222.3" r="3.1"/>
<circle cx="1743.7" cy="225.4" r="3.1"/>
<circle cx="1769.4" cy="266.1" r="3.1"/>
<circle cx="1720.7" cy="223.1" r="3.1"/>
<circle cx="1726.1" cy="283.5" r="3.1"/>
<circle cx="1770.5" cy="255.1" r="3.1"/>
<circle cx="1735.6" cy="277.6" r="3.1"/>
<circle cx="1692.3" cy="217.5" r="3.1"/>
<circle cx="1625" cy="257.4" r="3.1"/>
<circle cx="1614.2" cy="249.1" r="3.1"/>
<circle cx="1675.2" cy="224.2" r="3.1"/>
<circle cx="1655.9" cy="280.2" r="3.1"/>
<circle cx="1641.7" cy="229" r="3.1"/>
<circle cx="1693" cy="282.9" r="3.1"/>
<circle cx="1684.3" cy="217.4" r="3.1"/>
<circle cx="1775.7" cy="258.3" r="3.1"/>
<circle cx="1782.9" cy="266" r="3.1"/>
<circle cx="1643.7" cy="275" r="3.1"/>
<circle cx="1631.6" cy="233" r="3.1"/>
<circle cx="1746.9" cy="275" r="3.1"/>
<circle cx="1618.1" cy="263.7" r="3.1"/>
<circle cx="1748.4" cy="226.5" r="3.1"/>
<circle cx="1636.1" cy="232.4" r="3.1"/>
<circle cx="1695.9" cy="222.5" r="3.1"/>
<circle cx="1602.2" cy="261.9" r="3.1"/>
<circle cx="1679.3" cy="216.6" r="3.1"/>
<circle cx="1667.1" cy="285.3" r="3.1"/>
<circle cx="1610.2" cy="261.6" r="3.1"/>
<circle cx="1680.9" cy="284" r="3.1"/>
<circle cx="1605.9" cy="246.8" r="3.1"/>
<circle cx="1638.9" cy="231.6" r="3.1"/>
<circle cx="1759.5" cy="234" r="3.1"/>
<circle cx="1755.5" cy="285.4" r="3.1"/>
<circle cx="1638.9" cy="226.1" r="3.1"/>
<circle cx="1657.1" cy="277.1" r="3.1"/>
<circle cx="1764.6" cy="267.7" r="3.1"/>
<circle cx="1696.1" cy="285" r="3.1"/>
<circle cx="1746.8" cy="223" r="3.1"/>
<circle cx="1634" cy="234.1" r="3.1"/>
<circle cx="1618.4" cy="229.2" r="3.1"/>
<circle cx="1724.2" cy="279" r="3.1"/>
<circle cx="1727.4" cy="281.5" r="3.1"/>
<circle cx="1661.9" cy="221.4" r="3.1"/>
<circle cx="1775.7" cy="268.9" r="3.1"/>
<circle cx="1619.2" cy="231.6" r="3.1"/>
<circle cx="1625.9" cy="266" r="3.1"/>
<circle cx="1717.8" cy="286.1" r="3.1"/>
<circle cx="1770.1" cy="251.5" r="3.1"/>
<circle cx="1596.6" cy="249.3" r="3.1"/>
<circle cx="1772.8" cy="253" r="3.1"/>
<circle cx="1772.5" cy="270.3" r="3.1"/>
<circle cx="1754.5" cy="218.4" r="3.1"/>
<circle cx="1663.1" cy="287.9" r="3.1"/>
<circle cx="1777.1" cy="232.1" r="3.1"/>
<circle cx="1625.2" cy="285.1" r="3.1"/>
<circle cx="1608.2" cy="244.7" r="3.1"/>
<circle cx="1779.1" cy="235.4" r="3.1"/>
<circle cx="1705.4" cy="281.9" r="3.1"/>
<circle cx="1782.1" cy="271.8" r="3.1"/>
<circle cx="1766.1" cy="271" r="3.1"/>
<circle cx="1598.5" cy="257" r="3.1"/>
<circle cx="1662.9" cy="287.5" r="3.1"/>
<circle cx="1759.6" cy="225.7" r="3.1"/>
<circle cx="1614.2" cy="234.5" r="3.1"/>
<circle cx="1766.1" cy="283.1" r="3.1"/>
<circle cx="1596.3" cy="289.4" r="3.1"/>
<circle cx="1611.1" cy="246.7" r="3.1"/>
<circle cx="1774.8" cy="268.1" r="3.1"/>
<circle cx="1620.8" cy="266.7" r="3.1"/>
<circle cx="1620.5" cy="267.2" r="3.1"/>
<circle cx="1770.9" cy="225" r="3.1"/>
<circle cx="1624.3" cy="230.9" r="3.1"/>
<circle cx="1590.5" cy="241.3" r="3.1"/>
<circle cx="1775.8" cy="248.2" r="3.1"/>
<circle cx="1746.7" cy="282" r="3.1"/>
<circle cx="1765.2" cy="218.2" r="3.1"/>
<circle cx="1621.7" cy="267.2" r="3.1"/>
<circle cx="1772.4" cy="280.6" r="3.1"/>
<circle cx="1777.4" cy="248.4" r="3.1"/>
<circle cx="1776.1" cy="224.5" r="3.1"/>
<circle cx="1701.2" cy="285.9" r="3.1"/>
<circle cx="1656.3" cy="211.7" r="3.1"/>
<circle cx="1697.6" cy="282.4" r="3.1"/>
<circle cx="1634.2" cy="225.7" r="3.1"/>
<circle cx="1651.7" cy="219.2" r="3.1"/>
<circle cx="1622.5" cy="234.7" r="3.1"/>
<circle cx="1770.3" cy="278.4" r="3.1"/>
<circle cx="1643.6" cy="222.5" r="3.1"/>
<circle cx="1614" cy="254.9" r="3.1"/>
<circle cx="1747.9" cy="221.9" r="3.1"/>
<circle cx="1616" cy="249" r="3.1"/>
<circle cx="1603.7" cy="255.8" r="3.1"/>
<circle cx="1779.1" cy="258.2" r="3.1"/>
<circle cx="1755.5" cy="224.8" r="3.1"/>
<circle cx="1706" cy="281.9" r="3.1"/>
<circle cx="1786.2" cy="260.3" r="3.1"/>
<circle cx="1673.1" cy="284.8" r="3.1"/>
<circle cx="1745.8" cy="216.6" r="3.1"/>
<circle cx="1766.7" cy="229.8" r="3.1"/>
<circle cx="1726.8" cy="221.8" r="3.1"/>
<circle cx="1612.4" cy="230.6" r="3.1"/>
<circle cx="1789.8" cy="237.6" r="3.1"/>
<circle cx="1618.9" cy="241.3" r="3.1"/>
<circle cx="1703.1" cy="283.9" r="3.1"/>
<circle cx="1674.9" cy="287.2" r="3.1"/>
<circle cx="1775.5" cy="259.5" r="3.1"/>
<circle cx="1686.1" cy="293.1" r="3.1"/>
<circle cx="1603" cy="265" r="3.1"/>
<circle cx="1772" cy="272.6" r="3.1"/>
<circle cx="1698.5" cy="287.4" r="3.1"/>
<circle cx="1709.2" cy="217.7" r="3.1"/>
<circle cx="1616.7" cy="251" r="3.1"/>
<circle cx="1779.4" cy="268.4" r="3.1"/>
<circle cx="1747.7" cy="212.2" r="3.1"/>
<circle cx="1674.4" cy="213.6" r="3.1"/>
<circle cx="1780.1" cy="256.4" r="3.1"/>
<circle cx="1692.7" cy="283.2" r="3.1"/>
<circle cx="1643.2" cy="216" r="3.1"/>
<circle cx="1784.6" cy="240.2" r="3.1"/>
<circle cx="1685.6" cy="217.2" r="3.1"/>
<circle cx="1618.5" cy="237.1" r="3.1"/>
<circle cx="1778.2" cy="259.5" r="3.1"/>
<circle cx="1687.1" cy="289.8" r="3.1"/>
<circle cx="1793.7" cy="254.7" r="3.1"/>
<circle cx="1606.1" cy="242.2" r="3.1"/>
<circle cx="1801.7" cy="251.6" r="3.1"/>
<circle cx="1612.8" cy="249.9" r="3.1"/>
<circle cx="1780.2" cy="252.5" r="3.1"/>
<circle cx="1622.1" cy="271.2" r="3.1"/>
<circle cx="1541.1" cy="266.1" r="3.1"/>
<circle cx="1625" cy="228.6" r="3.1"/>
<circle cx="1768.5" cy="281.8" r="3.1"/>
<circle cx="1711.3" cy="217.3" r="3.1"/>
<circle cx="1694.6" cy="202" r="3.1"/>
<circle cx="1632.8" cy="279.2" r="3.1"/>
<circle cx="1639.9" cy="296.5" r="3.1"/>
<circle cx="1599.7" cy="271.7" r="3.1"/>
<circle cx="1609.2" cy="293.6" r="3.1"/>
<circle cx="1623.7" cy="217.3" r="3.1"/>
<circle cx="1618.3" cy="222.4" r="3.1"/>
<circle cx="1685.8" cy="286.2" r="3.1"/>
<circle cx="1636.1" cy="227.7" r="3.1"/>
<circle cx="1783.4" cy="259.5" r="3.1"/>
<circle cx="1619" cy="264.9" r="3.1"/>
<circle cx="1775.9" cy="235.6" r="3.1"/>
<circle cx="1767" cy="273.4" r="3.1"/>
<circle cx="1788.3" cy="258.8" r="3.1"/>
<circle cx="1609.9" cy="242.9" r="3.1"/>
<circle cx="1661.2" cy="288.5" r="3.1"/>
<circle cx="1695.7" cy="210.6" r="3.1"/>
<circle cx="1617.2" cy="236.5" r="3.1"/>
<circle cx="1703" cy="214" r="3.1"/>
<circle cx="1768.2" cy="277.8" r="3.1"/>
<circle cx="1753.5" cy="221.3" r="3.1"/>
<circle cx="1705.1" cy="292.9" r="3.1"/>
<circle cx="1592.4" cy="246.2" r="3.1"/>
<circle cx="1637.8" cy="277.3" r="3.1"/>
<circle cx="1618.7" cy="263.5" r="3.1"/>
<circle cx="1679.8" cy="286.7" r="3.1"/>
<circle cx="1784.1" cy="258.6" r="3.1"/>
<circle cx="1650.4" cy="214.7" r="3.1"/>
<circle cx="1586.1" cy="278.2" r="3.1"/>
<circle cx="1732.5" cy="287.6" r="3.1"/>
<circle cx="1741.4" cy="219.7" r="3.1"/>
<circle cx="1630" cy="280.3" r="3.1"/>
<circle cx="1775.8" cy="229.5" r="3.1"/>
<circle cx="1781" cy="221" r="3.1"/>
<circle cx="1789.8" cy="247.4" r="3.1"/>
<circle cx="1780.1" cy="274.9" r="3.1"/>
<circle cx="1605.2" cy="249.9" r="3.1"/>
<circle cx="1609.6" cy="267.4" r="3.1"/>
<circle cx="1761" cy="278.5" r="3.1"/>
<circle cx="1777.8" cy="265.5" r="3.1"/>
<circle cx="1586.7" cy="260.1" r="3.1"/>
<circle cx="1625.6" cy="223.1" r="3.1"/>
<circle cx="1668.8" cy="288.8" r="3.1"/>
<circle cx="1660.3" cy="217.8" r="3.1"/>
<circle cx="1600.1" cy="265.9" r="3.1"/>
<circle cx="1721.7" cy="208.4" r="3.1"/>
<circle cx="1777.6" cy="255.3" r="3.1"/>
<circle cx="1617.3" cy="235.8" r="3.1"/>
<circle cx="1652.5" cy="223" r="3.1"/>
<circle cx="1643.1" cy="217.7" r="3.1"/>
<circle cx="1755.4" cy="223.3" r="3.1"/>
<circle cx="1745.3" cy="280.9" r="3.1"/>
<circle cx="1629.4" cy="220.6" r="3.1"/>
<circle cx="1584.8" cy="230.8" r="3.1"/>
<circle cx="1693.7" cy="284.4" r="3.1"/>
<circle cx="1631.5" cy="280.4" r="3.1"/>
<circle cx="1697.9" cy="215.7" r="3.1"/>
<circle cx="1616.6" cy="241.3" r="3.1"/>
<circle cx="1609.7" cy="247.4" r="3.1"/>
<circle cx="1652.3" cy="279.6" r="3.1"/>
<circle cx="1785.5" cy="230.1" r="3.1"/>
<circle cx="1626.9" cy="231.9" r="3.1"/>
<circle cx="1686.1" cy="214" r="3.1"/>
<circle cx="1604.3" cy="264.3" r="3.1"/>
<circle cx="1803.3" cy="247.5" r="3.1"/>
<circle cx="1660.1" cy="209.3" r="3.1"/>
<circle cx="1617.2" cy="267.4" r="3.1"/>
<circle cx="1783.6" cy="267.1" r="3.1"/>
<circle cx="1717.1" cy="214.7" r="3.1"/>
<circle cx="1712.6" cy="220.5" r="3.1"/>
<circle cx="1800.7" cy="241.9" r="3.1"/>
<circle cx="1651.7" cy="221.3" r="3.1"/>
<circle cx="1623.5" cy="231.1" r="3.1"/>
<circle cx="1645.7" cy="220.4" r="3.1"/>
<circle cx="1684" cy="284.1" r="3.1"/>
<circle cx="1702.6" cy="283.5" r="3.1"/>
<circle cx="1658.6" cy="217.5" r="3.1"/>
<circle cx="1616.1" cy="265.3" r="3.1"/>
<circle cx="1618.3" cy="259" r="3.1"/>
<circle cx="1768.5" cy="270.7" r="3.1"/>
<circle cx="1588.2" cy="264" r="3.1"/>
<circle cx="1640.9" cy="215" r="3.1"/>
<circle cx="1775.8" cy="270.6" r="3.1"/>
<circle cx="1668" cy="294.3" r="3.1"/>
<circle cx="1772.5" cy="232.9" r="3.1"/>
<circle cx="1624.1" cy="273.2" r="3.1"/>
<circle cx="1609.1" cy="237.5" r="3.1"/>
<circle cx="1631.4" cy="283.2" r="3.1"/>
<circle cx="1608.7" cy="230.3" r="3.1"/>
<circle cx="1823.3" cy="277.3" r="3.1"/>
<circle cx="1775.7" cy="269.7" r="3.1"/>
<circle cx="1772" cy="225.9" r="3.1"/>
<circle cx="1683.8" cy="208" r="3.1"/>
<circle cx="1766" cy="220.5" r="3.1"/>
<circle cx="1722.6" cy="290.5" r="3.1"/>
<circle cx="1710.6" cy="285.3" r="3.1"/>
<circle cx="1604.3" cy="249.4" r="3.1"/>
<circle cx="1803.3" cy="277.2" r="3.1"/>
<circle cx="1765.5" cy="226.3" r="3.1"/>
<circle cx="1754" cy="217.2" r="3.1"/>
<circle cx="1694.7" cy="287.5" r="3.1"/>
<circle cx="1623.7" cy="269.9" r="3.1"/>
<circle cx="1776.6" cy="252.7" r="3.1"/>
<circle cx="1684.3" cy="220.8" r="3.1"/>
<circle cx="1786.6" cy="252.3" r="3.1"/>
<circle cx="1761" cy="205.9" r="3.1"/>
<circle cx="1711.1" cy="220.3" r="3.1"/>
<circle cx="1773.1" cy="275" r="3.1"/>
<circle cx="1665.1" cy="281" r="3.1"/>
<circle cx="1597.6" cy="244.8" r="3.1"/>
<circle cx="1615.3" cy="258.3" r="3.1"/>
<circle cx="1783.7" cy="248.2" r="3.1"/>
<circle cx="1708.2" cy="220.2" r="3.1"/>
<circle cx="1775.4" cy="227.4" r="3.1"/>
<circle cx="1704.8" cy="211.2" r="3.1"/>
<circle cx="1768.4" cy="277.2" r="3.1"/>
<circle cx="1779.8" cy="256.2" r="3.1"/>
<circle cx="1712.9" cy="216.4" r="3.1"/>
<circle cx="1602.1" cy="234.7" r="3.1"/>
<circle cx="1666.5" cy="221.7" r="3.1"/>
<circle cx="1614.8" cy="261" r="3.1"/>
<circle cx="1810.4" cy="243.6" r="3.1"/>
<circle cx="1769.6" cy="234.6" r="3.1"/>
<circle cx="1780.5" cy="264.3" r="3.1"/>
<circle cx="1799.2" cy="258.1" r="3.1"/>
<circle cx="1617.1" cy="255.2" r="3.1"/>
<circle cx="1662" cy="219.3" r="3.1"/>
<circle cx="1767" cy="218.8" r="3.1"/>
<circle cx="1673.5" cy="211" r="3.1"/>
<circle cx="1661.5" cy="221.9" r="3.1"/>
<circle cx="1716.1" cy="221.1" r="3.1"/>
<circle cx="1719.1" cy="288.8" r="3.1"/>
<circle cx="1613.6" cy="256.3" r="3.1"/>
<circle cx="1650.2" cy="224.1" r="3.1"/>
<circle cx="1782.9" cy="255.1" r="3.1"/>
<circle cx="1734" cy="218.5" r="3.1"/>
<circle cx="1697.4" cy="220.6" r="3.1"/>
<circle cx="1652.9" cy="298.4" r="3.1"/>
<circle cx="1740.3" cy="288" r="3.1"/>
<circle cx="1641.6" cy="281.6" r="3.1"/>
<circle cx="1782.9" cy="266.7" r="3.1"/>
<circle cx="1763.2" cy="273.6" r="3.1"/>
<circle cx="1609.6" cy="270.4" r="3.1"/>
<circle cx="1765.4" cy="230.2" r="3.1"/>
<circle cx="1596.7" cy="253.3" r="3.1"/>
<circle cx="1690.9" cy="219.7" r="3.1"/>
<circle cx="1632.4" cy="274.4" r="3.1"/>
<circle cx="1623.4" cy="272.7" r="3.1"/>
<circle cx="1771.5" cy="274.5" r="3.1"/>
<circle cx="1677" cy="219.7" r="3.1"/>
<circle cx="1745.5" cy="297.2" r="3.1"/>
<circle cx="1685.8" cy="221.1" r="3.1"/>
<circle cx="1800.7" cy="236.1" r="3.1"/>
<circle cx="1710.9" cy="210.9" r="3.1"/>
<circle cx="1604.9" cy="246.6" r="3.1"/>
<circle cx="1629.2" cy="230.2" r="3.1"/>
<circle cx="1802.2" cy="233.4" r="3.1"/>
<circle cx="1594.2" cy="242" r="3.1"/>
<circle cx="1596.3" cy="231" r="3.1"/>
<circle cx="1617.3" cy="244.3" r="3.1"/>
<circle cx="1781.8" cy="271" r="3.1"/>
<circle cx="1603.9" cy="257.2" r="3.1"/>
<circle cx="1661.4" cy="222.1" r="3.1"/>
<circle cx="1781.7" cy="239.5" r="3.1"/>
<circle cx="1689" cy="285.2" r="3.1"/>
<circle cx="1776.8" cy="273.3" r="3.1"/>
<circle cx="1628" cy="227.3" r="3.1"/>
<circle cx="1647.1" cy="278.9" r="3.1"/>
<circle cx="1629.3" cy="275.7" r="3.1"/>
<circle cx="1611.5" cy="224.1" r="3.1"/>
<circle cx="1781.5" cy="249.2" r="3.1"/>
<circle cx="1606.2" cy="256.9" r="3.1"/>
<circle cx="1649.8" cy="217" r="3.1"/>
<circle cx="1629.8" cy="275.3" r="3.1"/>
<circle cx="1645.3" cy="225" r="3.1"/>
<circle cx="1781.2" cy="258.5" r="3.1"/>
<circle cx="1794.6" cy="256.5" r="3.1"/>
<circle cx="1766.4" cy="228.4" r="3.1"/>
<circle cx="1717.6" cy="216.4" r="3.1"/>
<circle cx="1631.1" cy="272.9" r="3.1"/>
<circle cx="1600.2" cy="253.8" r="3.1"/>
<circle cx="1718.8" cy="216.2" r="3.1"/>
<circle cx="1733.5" cy="291.2" r="3.1"/>
<circle cx="1581.5" cy="230.3" r="3.1"/>
<circle cx="1664.8" cy="217.1" r="3.1"/>
<circle cx="1782.5" cy="278.6" r="3.1"/>
<circle cx="1730.8" cy="282.1" r="3.1"/>
<circle cx="1633.2" cy="291.3" r="3.1"/>
<circle cx="1728.9" cy="208.6" r="3.1"/>
<circle cx="1778.4" cy="243.3" r="3.1"/>
<circle cx="1763.3" cy="272.6" r="3.1"/>
<circle cx="1751.4" cy="283" r="3.1"/>
<circle cx="1656.2" cy="222.4" r="3.1"/>
<circle cx="1608.8" cy="273.1" r="3.1"/>
<circle cx="1683.8" cy="303.4" r="3.1"/>
<circle cx="1735.2" cy="284.2" r="3.1"/>
<circle cx="1653.1" cy="217.7" r="3.1"/>
<circle cx="1749.7" cy="218.3" r="3.1"/>
<circle cx="1776.1" cy="251.1" r="3.1"/>
<circle cx="1765.8" cy="288.4" r="3.1"/>
<circle cx="1769.7" cy="286.5" r="3.1"/>
<circle cx="1618.4" cy="259.1" r="3.1"/>
<circle cx="1664" cy="292.3" r="3.1"/>
<circle cx="1620.3" cy="266.9" r="3.1"/>
<circle cx="1634.5" cy="227.9" r="3.1"/>
<circle cx="1698.9" cy="220.8" r="3.1"/>
<circle cx="1695.2" cy="221.1" r="3.1"/>
<circle cx="1557.2" cy="260.7" r="3.1"/>
<circle cx="1768.7" cy="234.3" r="3.1"/>
<circle cx="1702" cy="291.8" r="3.1"/>
<circle cx="1851.2" cy="284.6" r="3.1"/>
<circle cx="1695.7" cy="292.3" r="3.1"/>
<circle cx="1683.2" cy="293" r="3.1"/>
<circle cx="1741.7" cy="296.6" r="3.1"/>
<circle cx="1714.6" cy="285" r="3.1"/>
<circle cx="1767.4" cy="298.4" r="3.1"/>
<circle cx="1684.3" cy="293.9" r="3.1"/>
<circle cx="1703.8" cy="291.7" r="3.1"/>
<circle cx="1624.4" cy="291.2" r="3.1"/>
<circle cx="1677" cy="292.7" r="3.1"/>
<circle cx="1662.3" cy="292.4" r="3.1"/>
<circle cx="1640.2" cy="299.1" r="3.1"/>
<circle cx="1696.9" cy="293.7" r="3.1"/>
<circle cx="1746.5" cy="295" r="3.1"/>
<circle cx="1732.9" cy="286.7" r="3.1"/>
<circle cx="1733.5" cy="305" r="3.1"/>
<circle cx="1750.3" cy="293.7" r="3.1"/>
<circle cx="1714.8" cy="301.6" r="3.1"/>
<circle cx="1669.9" cy="297.8" r="3.1"/>
<circle cx="1718.4" cy="290.6" r="3.1"/>
<circle cx="1672.6" cy="307.3" r="3.1"/>
<circle cx="1672.3" cy="300.4" r="3.1"/>
<circle cx="1708.7" cy="307" r="3.1"/>
<circle cx="1680.1" cy="287.6" r="3.1"/>
<circle cx="1632.3" cy="289.4" r="3.1"/>
<circle cx="1698.2" cy="291.2" r="3.1"/>
<circle cx="1681.2" cy="287.1" r="3.1"/>
<circle cx="1735.9" cy="285.7" r="3.1"/>
<circle cx="1707.2" cy="284" r="3.1"/>
<circle cx="1739" cy="299" r="3.1"/>
<circle cx="1746.3" cy="291.8" r="3.1"/>
<circle cx="1662.4" cy="305" r="3.1"/>
<circle cx="1727.4" cy="293.8" r="3.1"/>
<circle cx="1693.9" cy="290.6" r="3.1"/>
<circle cx="1673.9" cy="292.5" r="3.1"/>
<circle cx="1684" cy="294" r="3.1"/>
<circle cx="1758.1" cy="288.3" r="3.1"/>
<circle cx="1690.3" cy="285.9" r="3.1"/>
<circle cx="1613.2" cy="286.9" r="3.1"/>
<circle cx="1718.1" cy="290.7" r="3.1"/>
<circle cx="1684.2" cy="308.7" r="3.1"/>
<circle cx="1729.2" cy="289.2" r="3.1"/>
<circle cx="1749" cy="294.6" r="3.1"/>
<circle cx="1716" cy="291.6" r="3.1"/>
<circle cx="1681" cy="288.2" r="3.1"/>
<circle cx="1749.5" cy="299.5" r="3.1"/>
<circle cx="1701.7" cy="322.1" r="3.1"/>
<circle cx="1749.3" cy="298.7" r="3.1"/>
<circle cx="1661.4" cy="297" r="3.1"/>
<circle cx="1675.2" cy="305.6" r="3.1"/>
<circle cx="1682.1" cy="309.8" r="3.1"/>
<circle cx="1643.1" cy="286.8" r="3.1"/>
<circle cx="1781.6" cy="290.1" r="3.1"/>
<circle cx="1633.4" cy="308.2" r="3.1"/>
<circle cx="1781.7" cy="303.8" r="3.1"/>
<circle cx="1636.2" cy="286.7" r="3.1"/>
<circle cx="1697.9" cy="291.9" r="3.1"/>
<circle cx="1697.7" cy="291.3" r="3.1"/>
<circle cx="1680.1" cy="290.9" r="3.1"/>
<circle cx="1689.5" cy="295.7" r="3.1"/>
<circle cx="1697.2" cy="301.1" r="3.1"/>
<circle cx="1624.8" cy="300.8" r="3.1"/>
<circle cx="1692.6" cy="302.9" r="3.1"/>
<circle cx="1687.1" cy="287.4" r="3.1"/>
<circle cx="1722.2" cy="291.2" r="3.1"/>
<circle cx="1733.5" cy="287.3" r="3.1"/>
<circle cx="1661.4" cy="295.9" r="3.1"/>
<circle cx="1783.9" cy="299.7" r="3.1"/>
<circle cx="1748.1" cy="292.3" r="3.1"/>
<circle cx="1750.7" cy="295.4" r="3.1"/>
<circle cx="1692.7" cy="284.9" r="3.1"/>
<circle cx="1695.1" cy="292.8" r="3.1"/>
<circle cx="1710.7" cy="289.7" r="3.1"/>
<circle cx="1699" cy="285.9" r="3.1"/>
<circle cx="1760.8" cy="306.8" r="3.1"/>
<circle cx="1685.9" cy="288.8" r="3.1"/>
<circle cx="1648.9" cy="305" r="3.1"/>
<circle cx="1694.3" cy="302.2" r="3.1"/>
<circle cx="1646.2" cy="294.8" r="3.1"/>
<circle cx="1711.3" cy="289.4" r="3.1"/>
<circle cx="1678.8" cy="292.9" r="3.1"/>
<circle cx="1661.8" cy="302.6" r="3.1"/>
<circle cx="1642.9" cy="295.4" r="3.1"/>
<circle cx="1692.3" cy="301.7" r="3.1"/>
<circle cx="1756.4" cy="284.7" r="3.1"/>
<circle cx="1579.9" cy="295.5" r="3.1"/>
<circle cx="1701" cy="288.5" r="3.1"/>
<circle cx="1722.4" cy="313.2" r="3.1"/>
<circle cx="1679" cy="299.5" r="3.1"/>
<circle cx="1690.7" cy="284.2" r="3.1"/>
<circle cx="1669.7" cy="310.8" r="3.1"/>
<circle cx="1662.8" cy="291.4" r="3.1"/>
<circle cx="1736.7" cy="293.1" r="3.1"/>
<circle cx="1744.3" cy="287.7" r="3.1"/>
<circle cx="1704.2" cy="284.8" r="3.1"/>
<circle cx="1749.4" cy="296" r="3.1"/>
<circle cx="1685.4" cy="285" r="3.1"/>
<circle cx="1686.7" cy="299.3" r="3.1"/>
<circle cx="1708.6" cy="300.3" r="3.1"/>
<circle cx="1674.2" cy="296.1" r="3.1"/>
<circle cx="1683.2" cy="297.6" r="3.1"/>
<circle cx="1809.7" cy="314.4" r="3.1"/>
<circle cx="1701.5" cy="284.6" r="3.1"/>
<circle cx="1735.3" cy="304.1" r="3.1"/>
<circle cx="1671.6" cy="300.4" r="3.1"/>
<circle cx="1691.9" cy="291.4" r="3.1"/>
<circle cx="1685.8" cy="286.7" r="3.1"/>
<circle cx="1619.9" cy="292.7" r="3.1"/>
<circle cx="1661.7" cy="285.7" r="3.1"/>
<circle cx="1616.9" cy="292.7" r="3.1"/>
<circle cx="1732.3" cy="292.3" r="3.1"/>
<circle cx="1705.7" cy="302.9" r="3.1"/>
<circle cx="1725.3" cy="285.5" r="3.1"/>
<circle cx="1614.9" cy="297.7" r="3.1"/>
<circle cx="1679.6" cy="285" r="3.1"/>
<circle cx="1655.4" cy="291.6" r="3.1"/>
<circle cx="1716" cy="284.9" r="3.1"/>
<circle cx="1706" cy="299.9" r="3.1"/>
<circle cx="1720.4" cy="284.5" r="3.1"/>
<circle cx="1736.8" cy="288" r="3.1"/>
<circle cx="1725" cy="290.3" r="3.1"/>
<circle cx="1662.1" cy="310.3" r="3.1"/>
<circle cx="1683.1" cy="290.3" r="3.1"/>
<circle cx="1658.5" cy="284.9" r="3.1"/>
<circle cx="1564.2" cy="293.1" r="3.1"/>
<circle cx="1760.8" cy="301.9" r="3.1"/>
<circle cx="1621.1" cy="285.4" r="3.1"/>
<circle cx="1632" cy="295.9" r="3.1"/>
<circle cx="1656.9" cy="290.5" r="3.1"/>
<circle cx="1749.7" cy="284.9" r="3.1"/>
<circle cx="1731.4" cy="291.1" r="3.1"/>
<circle cx="1597.5" cy="287.7" r="3.1"/>
<circle cx="1709.2" cy="315.1" r="3.1"/>
<circle cx="1691.2" cy="289.2" r="3.1"/>
<circle cx="1625.7" cy="285.8" r="3.1"/>
<circle cx="1725.7" cy="284.7" r="3.1"/>
<circle cx="1757.4" cy="306.4" r="3.1"/>
<circle cx="1715" cy="289.5" r="3.1"/>
<circle cx="1730.1" cy="304.9" r="3.1"/>
<circle cx="1705.9" cy="299.2" r="3.1"/>
<circle cx="1693.1" cy="284.3" r="3.1"/>
<circle cx="1616.7" cy="312.7" r="3.1"/>
<circle cx="1701.7" cy="285.8" r="3.1"/>
<circle cx="1747.7" cy="285.9" r="3.1"/>
<circle cx="1660.2" cy="288.1" r="3.1"/>
<circle cx="1722.2" cy="295.2" r="3.1"/>
<circle cx="1674.6" cy="288" r="3.1"/>
<circle cx="1657.3" cy="302.5" r="3.1"/>
<circle cx="1661.6" cy="304.5" r="3.1"/>
<circle cx="1699.7" cy="285.5" r="3.1"/>
<circle cx="1724.7" cy="302.1" r="3.1"/>
<circle cx="1650.6" cy="285.8" r="3.1"/>
<circle cx="1756.5" cy="300.6" r="3.1"/>
<circle cx="1715.8" cy="295.5" r="3.1"/>
<circle cx="1742.1" cy="286.7" r="3.1"/>
<circle cx="1715" cy="288.2" r="3.1"/>
<circle cx="1646.9" cy="293.5" r="3.1"/>
<circle cx="1722.2" cy="301" r="3.1"/>
<circle cx="1715.2" cy="284.4" r="3.1"/>
<circle cx="1683.5" cy="294.1" r="3.1"/>
<circle cx="1619.9" cy="305.1" r="3.1"/>
<circle cx="1702.9" cy="288.9" r="3.1"/>
<circle cx="1709.7" cy="289" r="3.1"/>
<circle cx="1682.6" cy="304.9" r="3.1"/>
<circle cx="1669.2" cy="297.1" r="3.1"/>
<circle cx="1781.3" cy="297.1" r="3.1"/>
<circle cx="1660.6" cy="286.9" r="3.1"/>
<circle cx="1749" cy="285.3" r="3.1"/>
<circle cx="1763.5" cy="298.1" r="3.1"/>
<circle cx="1647.3" cy="180.8" r="3.1"/>
<circle cx="1701" cy="178.3" r="3.1"/>
<circle cx="1678.2" cy="187.4" r="3.1"/>
<circle cx="1664" cy="193.1" r="3.1"/>
<circle cx="1636.4" cy="195.3" r="3.1"/>
<circle cx="1704.6" cy="203.7" r="3.1"/>
<circle cx="1580.1" cy="212" r="3.1"/>
<circle cx="1595.5" cy="216.5" r="3.1"/>
<circle cx="1545" cy="222.6" r="3.1"/>
<circle cx="1518.1" cy="240.7" r="3.1"/>
<circle cx="1516.7" cy="242.9" r="3.1"/>
<circle cx="1529" cy="267.1" r="3.1"/>
<circle cx="1525.4" cy="277.3" r="3.1"/>
<circle cx="1542.1" cy="277.3" r="3.1"/>
<circle cx="1590.7" cy="293" r="3.1"/>
<circle cx="1595.8" cy="293" r="3.1"/>
<circle cx="1751.5" cy="163.8" r="3.1"/>
<circle cx="1727.9" cy="171.3" r="3.1"/>
<circle cx="1721" cy="177.6" r="3.1"/>
<circle cx="1729" cy="185.6" r="3.1"/>
<circle cx="1718.9" cy="196.4" r="3.1"/>
<circle cx="1719.6" cy="198.6" r="3.1"/>
<circle cx="1728" cy="198.6" r="3.1"/>
<circle cx="1766.8" cy="197.2" r="3.1"/>
<circle cx="1760.2" cy="200.8" r="3.1"/>
<circle cx="1761.7" cy="202.2" r="3.1"/>
<circle cx="1792.6" cy="201.2" r="3.1"/>
<circle cx="1771.8" cy="207.3" r="3.1"/>
<circle cx="1705.1" cy="203.7" r="3.1"/>
<circle cx="1813.9" cy="219.4" r="3.1"/>
<circle cx="1821.9" cy="224.5" r="3.1"/>
<circle cx="1859.7" cy="237.7" r="3.1"/>
<circle cx="1843.4" cy="248.7" r="3.1"/>
<circle cx="1845.6" cy="261.8" r="3.1"/>
<circle cx="1843.4" cy="266.1" r="3.1"/>
<circle cx="1894.9" cy="268.3" r="3.1"/>
<circle cx="1818.3" cy="282.1" r="3.1"/>
<circle cx="1805.2" cy="289.3" r="3.1"/>
<circle cx="1604.5" cy="298" r="3.1"/>
<circle cx="1614.7" cy="321.2" r="3.1"/>
<circle cx="1579.5" cy="328" r="3.1"/>
<circle cx="1650.9" cy="323.1" r="3.1"/>
<circle cx="1656" cy="322.2" r="3.1"/>
<circle cx="1684.3" cy="333.5" r="3.1"/>
<circle cx="1660.7" cy="380" r="3.1"/>
<circle cx="1621.9" cy="400" r="3.1"/>
<circle cx="1651.7" cy="399.6" r="3.1"/>
<circle cx="1736.3" cy="379.7" r="3.1"/>
<circle cx="1729.5" cy="386.8" r="3.1"/>
<circle cx="1747.6" cy="340.1" r="3.1"/>
<circle cx="1762.4" cy="339.3" r="3.1"/>
<circle cx="1776.2" cy="338.3" r="3.1"/>
<circle cx="1748.3" cy="329.2" r="3.1"/>
<circle cx="1764.6" cy="308.9" r="3.1"/>
<circle cx="1767.5" cy="315" r="3.1"/>
<circle cx="1795.1" cy="310.3" r="3.1"/>
<circle cx="1778.4" cy="298.4" r="3.1"/>
<circle cx="1752.2" cy="292.2" r="3.1"/>
<circle cx="1723.9" cy="328.9" r="3.1"/>
<circle cx="1716" cy="366.2" r="3.1"/>
<circle cx="1578.2" cy="229.6" r="3.1"/>
<circle cx="1578.9" cy="234.2" r="3.1"/>
<circle cx="1559.6" cy="236.5" r="3.1"/>
<circle cx="1556.5" cy="245.8" r="3.1"/>
<circle cx="1566.5" cy="246.6" r="3.1"/>
<circle cx="1554.2" cy="255.9" r="3.1"/>
<circle cx="1572.7" cy="256.7" r="3.1"/>
<circle cx="1575.1" cy="259.8" r="3.1"/>
<circle cx="1574.3" cy="264.4" r="3.1"/>
<circle cx="1571.2" cy="269.1" r="3.1"/>
<circle cx="1587.5" cy="269.1" r="3.1"/>
<circle cx="1576.9" cy="272.9" r="3.1"/>
<circle cx="1787.1" cy="222.6" r="3.1"/>
<circle cx="1791.7" cy="224" r="3.1"/>
<circle cx="1783.9" cy="229.1" r="3.1"/>
<circle cx="1791.4" cy="229.8" r="3.1"/>
<circle cx="1811" cy="229.8" r="3.1"/>
<circle cx="1808.1" cy="233" r="3.1"/>
<circle cx="1800.1" cy="236.4" r="3.1"/>
<circle cx="1804.2" cy="237.5" r="3.1"/>
<circle cx="1808.9" cy="240.7" r="3.1"/>
<circle cx="1809.6" cy="243.6" r="3.1"/>
<circle cx="1800.9" cy="242.6" r="3.1"/>
<circle cx="1795.1" cy="246.5" r="3.1"/>
<circle cx="1799.4" cy="249.4" r="3.1"/>
<circle cx="1803.8" cy="248.7" r="3.1"/>
<circle cx="1821.9" cy="241.7" r="3.1"/>
<circle cx="1826" cy="245.1" r="3.1"/>
<circle cx="1826.6" cy="250.1" r="3.1"/>
<circle cx="1821.6" cy="253.8" r="3.1"/>
<circle cx="1795.8" cy="254.5" r="3.1"/>
<circle cx="1800.9" cy="253.8" r="3.1"/>
<circle cx="1818.3" cy="258.6" r="3.1"/>
<circle cx="1823.4" cy="258.1" r="3.1"/>
<circle cx="1828" cy="257.7" r="3.1"/>
<circle cx="1831.8" cy="260.6" r="3.1"/>
<circle cx="1824.5" cy="261.5" r="3.1"/>
<circle cx="1827.7" cy="265.4" r="3.1"/>
<circle cx="1791.4" cy="260.3" r="3.1"/>
<circle cx="1795.8" cy="259.6" r="3.1"/>
<circle cx="1787.1" cy="266.1" r="3.1"/>
<circle cx="1791.7" cy="265.4" r="3.1"/>
<circle cx="1801.6" cy="262.5" r="3.1"/>
<circle cx="1806" cy="261.8" r="3.1"/>
<circle cx="1809.6" cy="267.3" r="3.1"/>
<circle cx="1799.4" cy="267.6" r="3.1"/>
<circle cx="1795.1" cy="271.2" r="3.1"/>
<circle cx="1801.6" cy="271.9" r="3.1"/>
<circle cx="1791.7" cy="274.1" r="3.1"/>
<circle cx="1806" cy="275.5" r="3.1"/>
<circle cx="1795.8" cy="280.6" r="3.1"/>
<circle cx="1799.9" cy="279.2" r="3.1"/>
<circle cx="1786.4" cy="281.3" r="3.1"/>
</g>
<g class="p">
<circle cx="1743.3" cy="289.4" r="4.45"/>
<circle cx="1747.4" cy="282.4" r="4.45"/>
<circle cx="1699.2" cy="282.2" r="4.45"/>
<circle cx="1749.9" cy="294.2" r="4.45"/>
<circle cx="1715.1" cy="287.5" r="4.45"/>
<circle cx="1652.7" cy="292" r="4.45"/>
<circle cx="1771.6" cy="283.8" r="4.45"/>
<circle cx="1713.8" cy="295.2" r="4.45"/>
<circle cx="1756.7" cy="289.5" r="4.45"/>
<circle cx="1677" cy="284.4" r="4.45"/>
<circle cx="1681.4" cy="284.7" r="4.45"/>
<circle cx="1708.4" cy="297.7" r="4.45"/>
<circle cx="1706.7" cy="284.8" r="4.45"/>
<circle cx="1752.1" cy="281.3" r="4.45"/>
<circle cx="1730.9" cy="278.8" r="4.45"/>
<circle cx="1740.7" cy="296" r="4.45"/>
<circle cx="1621.8" cy="296.9" r="4.45"/>
<circle cx="1781.6" cy="289" r="4.45"/>
<circle cx="1732.9" cy="292.6" r="4.45"/>
<circle cx="1742.3" cy="289.9" r="4.45"/>
<circle cx="1692" cy="290.5" r="4.45"/>
<circle cx="1702.3" cy="284.4" r="4.45"/>
<circle cx="1744.1" cy="296.1" r="4.45"/>
<circle cx="1780.2" cy="294.7" r="4.45"/>
<circle cx="1698.3" cy="285.6" r="4.45"/>
<circle cx="1629.5" cy="289.3" r="4.45"/>
<circle cx="1630.2" cy="297.8" r="4.45"/>
<circle cx="1625.9" cy="293" r="4.45"/>
<circle cx="1716.7" cy="290.3" r="4.45"/>
<circle cx="1654.2" cy="280.5" r="4.45"/>
<circle cx="1748.6" cy="286.9" r="4.45"/>
<circle cx="1768.3" cy="279.1" r="4.45"/>
<circle cx="1611.5" cy="281.3" r="4.45"/>
<circle cx="1649.6" cy="285.4" r="4.45"/>
<circle cx="1787.2" cy="288.9" r="4.45"/>
<circle cx="1785.8" cy="291.5" r="4.45"/>
<circle cx="1660.8" cy="286.7" r="4.45"/>
<circle cx="1692.2" cy="287.6" r="4.45"/>
<circle cx="1639.9" cy="292.8" r="4.45"/>
<circle cx="1743.1" cy="288" r="4.45"/>
<circle cx="1699.7" cy="280.5" r="4.45"/>
<circle cx="1644.7" cy="297.7" r="4.45"/>
<circle cx="1758.4" cy="293.7" r="4.45"/>
<circle cx="1643.9" cy="289.2" r="4.45"/>
<circle cx="1681.2" cy="294.6" r="4.45"/>
<circle cx="1768.3" cy="283.4" r="4.45"/>
<circle cx="1755.9" cy="291.4" r="4.45"/>
<circle cx="1672.5" cy="280.5" r="4.45"/>
<circle cx="1700.9" cy="287.4" r="4.45"/>
<circle cx="1748.4" cy="279.8" r="4.45"/>
<circle cx="1645.3" cy="291.3" r="4.45"/>
<circle cx="1685.7" cy="291.9" r="4.45"/>
<circle cx="1713.4" cy="283.9" r="4.45"/>
<circle cx="1612.3" cy="293.8" r="4.45"/>
<circle cx="1678.7" cy="283.1" r="4.45"/>
<circle cx="1741.2" cy="294.1" r="4.45"/>
<circle cx="1719.5" cy="295.3" r="4.45"/>
<circle cx="1746.5" cy="296" r="4.45"/>
<circle cx="1718.5" cy="290.3" r="4.45"/>
<circle cx="1653.2" cy="288.8" r="4.45"/>
<circle cx="1710.9" cy="296.6" r="4.45"/>
<circle cx="1738.3" cy="285.1" r="4.45"/>
<circle cx="1720.7" cy="290" r="4.45"/>
<circle cx="1625" cy="282.4" r="4.45"/>
<circle cx="1655.1" cy="297.7" r="4.45"/>
<circle cx="1668.3" cy="281" r="4.45"/>
<circle cx="1784.3" cy="294.3" r="4.45"/>
<circle cx="1739.7" cy="293.9" r="4.45"/>
<circle cx="1724.7" cy="288.7" r="4.45"/>
<circle cx="1734.8" cy="293.2" r="4.45"/>
<circle cx="1709.2" cy="330.5" r="4.45"/>
<circle cx="1673.2" cy="334.9" r="4.45"/>
<circle cx="1682" cy="302.3" r="4.45"/>
<circle cx="1699.3" cy="326.8" r="4.45"/>
<circle cx="1743.1" cy="343.8" r="4.45"/>
<circle cx="1658.8" cy="298.4" r="4.45"/>
<circle cx="1649" cy="389.8" r="4.45"/>
<circle cx="1717.5" cy="338" r="4.45"/>
<circle cx="1624.4" cy="372" r="4.45"/>
<circle cx="1693.2" cy="328.5" r="4.45"/>
<circle cx="1725.1" cy="329" r="4.45"/>
<circle cx="1734.3" cy="346.9" r="4.45"/>
<circle cx="1695.3" cy="334.6" r="4.45"/>
<circle cx="1688.8" cy="303.2" r="4.45"/>
<circle cx="1743.4" cy="319.5" r="4.45"/>
<circle cx="1725.2" cy="340.3" r="4.45"/>
<circle cx="1667.3" cy="389.7" r="4.45"/>
<circle cx="1701.6" cy="409.5" r="4.45"/>
<circle cx="1726.5" cy="377.5" r="4.45"/>
<circle cx="1730.1" cy="314" r="4.45"/>
<circle cx="1645" cy="307" r="4.45"/>
<circle cx="1680.8" cy="301.7" r="4.45"/>
<circle cx="1750.4" cy="337.9" r="4.45"/>
<circle cx="1674.9" cy="309.9" r="4.45"/>
<circle cx="1721.3" cy="351.4" r="4.45"/>
<circle cx="1678.4" cy="378.7" r="4.45"/>
<circle cx="1695.4" cy="335.1" r="4.45"/>
<circle cx="1677.6" cy="350.2" r="4.45"/>
<circle cx="1738.7" cy="323.6" r="4.45"/>
<circle cx="1726.3" cy="327" r="4.45"/>
<circle cx="1643.1" cy="306.9" r="4.45"/>
<circle cx="1715.4" cy="406.1" r="4.45"/>
<circle cx="1683.8" cy="380.9" r="4.45"/>
<circle cx="1744.1" cy="314.9" r="4.45"/>
<circle cx="1705.8" cy="312.1" r="4.45"/>
<circle cx="1645.9" cy="344" r="4.45"/>
<circle cx="1685.1" cy="322.3" r="4.45"/>
<circle cx="1669.3" cy="355.6" r="4.45"/>
<circle cx="1663.7" cy="310.9" r="4.45"/>
<circle cx="1738.9" cy="316.8" r="4.45"/>
<circle cx="1660.2" cy="338.9" r="4.45"/>
<circle cx="1649.8" cy="368.8" r="4.45"/>
<circle cx="1711.7" cy="349.1" r="4.45"/>
<circle cx="1666.6" cy="326.6" r="4.45"/>
<circle cx="1687.1" cy="346.1" r="4.45"/>
<circle cx="1659.3" cy="316.9" r="4.45"/>
<circle cx="1675.9" cy="329.4" r="4.45"/>
<circle cx="1728.4" cy="325.5" r="4.45"/>
<circle cx="1739.6" cy="321" r="4.45"/>
<circle cx="1733.3" cy="302.9" r="4.45"/>
<circle cx="1686" cy="341.3" r="4.45"/>
<circle cx="1701.1" cy="319.2" r="4.45"/>
<circle cx="1707.3" cy="374.7" r="4.45"/>
<circle cx="1661.2" cy="328" r="4.45"/>
<circle cx="1721.4" cy="342" r="4.45"/>
<circle cx="1693.8" cy="371.5" r="4.45"/>
<circle cx="1647" cy="319.3" r="4.45"/>
<circle cx="1706" cy="309.1" r="4.45"/>
<circle cx="1713.2" cy="345.3" r="4.45"/>
<circle cx="1751.7" cy="319.8" r="4.45"/>
<circle cx="1704.6" cy="322.2" r="4.45"/>
<circle cx="1683.2" cy="426.4" r="4.45"/>
<circle cx="1705.8" cy="387.8" r="4.45"/>
<circle cx="1742" cy="315.2" r="4.45"/>
<circle cx="1709.5" cy="360.9" r="4.45"/>
<circle cx="1632.4" cy="305.2" r="4.45"/>
<circle cx="1717.9" cy="331.4" r="4.45"/>
<circle cx="1640.8" cy="302.3" r="4.45"/>
<circle cx="1714.3" cy="341.5" r="4.45"/>
<circle cx="1742.4" cy="403.9" r="4.45"/>
<circle cx="1717.7" cy="324.5" r="4.45"/>
<circle cx="1648.6" cy="384.2" r="4.45"/>
<circle cx="1699" cy="302.4" r="4.45"/>
<circle cx="1728.1" cy="334.5" r="4.45"/>
<circle cx="1716.2" cy="306.7" r="4.45"/>
<circle cx="1713.3" cy="325.5" r="4.45"/>
<circle cx="1640.9" cy="342.7" r="4.45"/>
<circle cx="1682.5" cy="314.2" r="4.45"/>
<circle cx="1744.9" cy="310.6" r="4.45"/>
<circle cx="1673.8" cy="362.8" r="4.45"/>
<circle cx="1726.4" cy="375.4" r="4.45"/>
<circle cx="1731.1" cy="315.6" r="4.45"/>
<circle cx="1686.7" cy="333.6" r="4.45"/>
<circle cx="1665.1" cy="309.5" r="4.45"/>
<circle cx="1737.1" cy="312.6" r="4.45"/>
<circle cx="1707.1" cy="299.2" r="4.45"/>
<circle cx="1682.7" cy="390.5" r="4.45"/>
<circle cx="1713.4" cy="327.1" r="4.45"/>
<circle cx="1717.7" cy="384" r="4.45"/>
<circle cx="1640.2" cy="313.9" r="4.45"/>
<circle cx="1719.1" cy="405.1" r="4.45"/>
<circle cx="1704.6" cy="309.5" r="4.45"/>
<circle cx="1684.2" cy="343.1" r="4.45"/>
<circle cx="1729.8" cy="421.3" r="4.45"/>
<circle cx="1744.6" cy="348" r="4.45"/>
<circle cx="1698.3" cy="367.1" r="4.45"/>
<circle cx="1754.1" cy="318.5" r="4.45"/>
<circle cx="1648.3" cy="324.9" r="4.45"/>
<circle cx="1717.3" cy="302" r="4.45"/>
<circle cx="1691.7" cy="330.1" r="4.45"/>
<circle cx="1712.5" cy="321.6" r="4.45"/>
<circle cx="1673.6" cy="313.1" r="4.45"/>
<circle cx="1666.2" cy="310.5" r="4.45"/>
<circle cx="1715.5" cy="330.7" r="4.45"/>
<circle cx="1643.9" cy="312" r="4.45"/>
<circle cx="1749" cy="312.2" r="4.45"/>
<circle cx="1658.3" cy="334.5" r="4.45"/>
<circle cx="1654.8" cy="316.5" r="4.45"/>
<circle cx="1691" cy="303.2" r="4.45"/>
<circle cx="1720.4" cy="318" r="4.45"/>
<circle cx="1700.7" cy="333.8" r="4.45"/>
<circle cx="1650.9" cy="328.6" r="4.45"/>
<circle cx="1735" cy="372.4" r="4.45"/>
<circle cx="1713.8" cy="308.5" r="4.45"/>
<circle cx="1728.9" cy="337.7" r="4.45"/>
<circle cx="1696.8" cy="318.2" r="4.45"/>
<circle cx="1661.4" cy="330.9" r="4.45"/>
<circle cx="1707.8" cy="347.6" r="4.45"/>
<circle cx="1713.1" cy="327.1" r="4.45"/>
<circle cx="1669" cy="299.4" r="4.45"/>
<circle cx="1710.5" cy="347.5" r="4.45"/>
<circle cx="1663.6" cy="403.9" r="4.45"/>
<circle cx="1703.8" cy="420.9" r="4.45"/>
<circle cx="1682.4" cy="314.6" r="4.45"/>
<circle cx="1731.7" cy="352.6" r="4.45"/>
<circle cx="1712.8" cy="307" r="4.45"/>
<circle cx="1662.9" cy="332.2" r="4.45"/>
<circle cx="1746.7" cy="322.5" r="4.45"/>
<circle cx="1678.4" cy="321.6" r="4.45"/>
<circle cx="1689.2" cy="310.6" r="4.45"/>
<circle cx="1723.2" cy="324.7" r="4.45"/>
<circle cx="1668.5" cy="366.5" r="4.45"/>
<circle cx="1730.2" cy="373.7" r="4.45"/>
<circle cx="1710.9" cy="355.3" r="4.45"/>
<circle cx="1642.2" cy="314.7" r="4.45"/>
<circle cx="1702.5" cy="344.8" r="4.45"/>
<circle cx="1658.7" cy="395" r="4.45"/>
<circle cx="1686.6" cy="322.6" r="4.45"/>
<circle cx="1688.9" cy="352.5" r="4.45"/>
<circle cx="1676" cy="315.4" r="4.45"/>
<circle cx="1667.8" cy="385.4" r="4.45"/>
<circle cx="1689.4" cy="311.1" r="4.45"/>
<circle cx="1683.2" cy="309.3" r="4.45"/>
<circle cx="1716.3" cy="304.7" r="4.45"/>
<circle cx="1757" cy="331.1" r="4.45"/>
<circle cx="1656.5" cy="386.7" r="4.45"/>
<circle cx="1740" cy="377" r="4.45"/>
<circle cx="1742.5" cy="302.5" r="4.45"/>
<circle cx="1695.6" cy="311.5" r="4.45"/>
<circle cx="1680.8" cy="323.8" r="4.45"/>
<circle cx="1672.4" cy="402.5" r="4.45"/>
<circle cx="1734.2" cy="314" r="4.45"/>
<circle cx="1746.5" cy="345.9" r="4.45"/>
<circle cx="1724.2" cy="321" r="4.45"/>
<circle cx="1638.1" cy="385.8" r="4.45"/>
<circle cx="1743.7" cy="354.3" r="4.45"/>
<circle cx="1687.7" cy="424.7" r="4.45"/>
<circle cx="1679.7" cy="412.5" r="4.45"/>
<circle cx="1656.7" cy="318.9" r="4.45"/>
<circle cx="1678.2" cy="306.4" r="4.45"/>
<circle cx="1743.8" cy="387.4" r="4.45"/>
<circle cx="1672.6" cy="327.8" r="4.45"/>
<circle cx="1742.8" cy="316" r="4.45"/>
<circle cx="1700.4" cy="377.4" r="4.45"/>
<circle cx="1665.4" cy="341.2" r="4.45"/>
<circle cx="1640" cy="353.9" r="4.45"/>
<circle cx="1748.3" cy="320" r="4.45"/>
<circle cx="1686.7" cy="321.2" r="4.45"/>
<circle cx="1736.7" cy="325" r="4.45"/>
<circle cx="1721.3" cy="359.6" r="4.45"/>
<circle cx="1695.2" cy="347.5" r="4.45"/>
<circle cx="1650.7" cy="312.1" r="4.45"/>
<circle cx="1660.1" cy="411.7" r="4.45"/>
<circle cx="1695.3" cy="310.5" r="4.45"/>
<circle cx="1736.3" cy="310.7" r="4.45"/>
<circle cx="1682.9" cy="333.7" r="4.45"/>
<circle cx="1644.7" cy="317.1" r="4.45"/>
<circle cx="1669.1" cy="372" r="4.45"/>
<circle cx="1696.5" cy="358.9" r="4.45"/>
<circle cx="1648.8" cy="305.6" r="4.45"/>
<circle cx="1716.7" cy="322.9" r="4.45"/>
<circle cx="1674.4" cy="379.1" r="4.45"/>
<circle cx="1741.3" cy="356.2" r="4.45"/>
<circle cx="1705" cy="301.3" r="4.45"/>
<circle cx="1674.9" cy="312.8" r="4.45"/>
<circle cx="1675.2" cy="349.7" r="4.45"/>
<circle cx="1688" cy="312.6" r="4.45"/>
<circle cx="1688.7" cy="308.5" r="4.45"/>
<circle cx="1700.4" cy="323.4" r="4.45"/>
<circle cx="1705.5" cy="347.9" r="4.45"/>
<circle cx="1724.9" cy="298.5" r="4.45"/>
<circle cx="1673.5" cy="332.4" r="4.45"/>
<circle cx="1643.7" cy="338.2" r="4.45"/>
<circle cx="1728.8" cy="424.7" r="4.45"/>
<circle cx="1730.5" cy="334.9" r="4.45"/>
<circle cx="1746.1" cy="312" r="4.45"/>
<circle cx="1651.2" cy="314.2" r="4.45"/>
<circle cx="1755.8" cy="308.9" r="4.45"/>
<circle cx="1687" cy="341.8" r="4.45"/>
<circle cx="1696.2" cy="306.1" r="4.45"/>
<circle cx="1720.4" cy="372.2" r="4.45"/>
<circle cx="1757.7" cy="304.9" r="4.45"/>
<circle cx="1749.6" cy="338.4" r="4.45"/>
<circle cx="1725.5" cy="324.1" r="4.45"/>
<circle cx="1707" cy="349" r="4.45"/>
<circle cx="1686.2" cy="327" r="4.45"/>
<circle cx="1690.9" cy="333.6" r="4.45"/>
<circle cx="1740.3" cy="322.7" r="4.45"/>
<circle cx="1669.6" cy="335.1" r="4.45"/>
<circle cx="1699.9" cy="379.8" r="4.45"/>
<circle cx="1672.6" cy="327" r="4.45"/>
<circle cx="1707.5" cy="329.2" r="4.45"/>
<circle cx="1702.1" cy="324.4" r="4.45"/>
<circle cx="1731.2" cy="329.1" r="4.45"/>
<circle cx="1662.3" cy="364" r="4.45"/>
<circle cx="1652.5" cy="331.3" r="4.45"/>
<circle cx="1707.3" cy="338.2" r="4.45"/>
<circle cx="1755.8" cy="303.7" r="4.45"/>
<circle cx="1717.5" cy="300.8" r="4.45"/>
<circle cx="1674.9" cy="307.9" r="4.45"/>
<circle cx="1651.4" cy="316.3" r="4.45"/>
<circle cx="1673.7" cy="314.1" r="4.45"/>
<circle cx="1683.8" cy="350.9" r="4.45"/>
<circle cx="1732.5" cy="318.8" r="4.45"/>
<circle cx="1643.2" cy="300.1" r="4.45"/>
<circle cx="1674" cy="313.8" r="4.45"/>
<circle cx="1731.1" cy="316.7" r="4.45"/>
<circle cx="1701.5" cy="326.1" r="4.45"/>
<circle cx="1737.6" cy="306.3" r="4.45"/>
<circle cx="1684.7" cy="322.5" r="4.45"/>
<circle cx="1729.9" cy="304.3" r="4.45"/>
<circle cx="1683.2" cy="312.2" r="4.45"/>
<circle cx="1718.9" cy="333.6" r="4.45"/>
<circle cx="1739" cy="352.2" r="4.45"/>
<circle cx="1716.6" cy="364" r="4.45"/>
<circle cx="1728.9" cy="337.2" r="4.45"/>
<circle cx="1725.9" cy="315.6" r="4.45"/>
<circle cx="1654.2" cy="315.8" r="4.45"/>
<circle cx="1689" cy="340.1" r="4.45"/>
<circle cx="1689.4" cy="306.1" r="4.45"/>
<circle cx="1658" cy="321.7" r="4.45"/>
<circle cx="1669.9" cy="322.3" r="4.45"/>
<circle cx="1695.4" cy="344.8" r="4.45"/>
<circle cx="1667.6" cy="301.2" r="4.45"/>
<circle cx="1670.2" cy="341.3" r="4.45"/>
<circle cx="1752.9" cy="336.5" r="4.45"/>
<circle cx="1642.9" cy="308.5" r="4.45"/>
<circle cx="1730.2" cy="350.7" r="4.45"/>
<circle cx="1748.4" cy="328.4" r="4.45"/>
<circle cx="1702.3" cy="332.4" r="4.45"/>
<circle cx="1692.3" cy="356.3" r="4.45"/>
<circle cx="1643.3" cy="331.7" r="4.45"/>
<circle cx="1680" cy="323.9" r="4.45"/>
<circle cx="1660.1" cy="391.1" r="4.45"/>
<circle cx="1648.1" cy="360.9" r="4.45"/>
<circle cx="1579.5" cy="128.8" r="4.45"/>
<circle cx="1690.4" cy="162.3" r="4.45"/>
<circle cx="1673.2" cy="177.1" r="4.45"/>
<circle cx="1623.4" cy="197.9" r="4.45"/>
<circle cx="1638.6" cy="197.9" r="4.45"/>
<circle cx="1640.1" cy="205.9" r="4.45"/>
<circle cx="1652.7" cy="197.6" r="4.45"/>
<circle cx="1668.4" cy="200.1" r="4.45"/>
<circle cx="1700" cy="197.9" r="4.45"/>
<circle cx="1716.5" cy="189.2" r="4.45"/>
<circle cx="1685.5" cy="225.2" r="4.45"/>
<circle cx="1725.8" cy="188" r="4.45"/>
<circle cx="1735.6" cy="188.9" r="4.45"/>
<circle cx="1740.3" cy="210.2" r="4.45"/>
<circle cx="1776.2" cy="211.7" r="4.45"/>
<circle cx="1562.1" cy="295.6" r="4.45"/>
<circle cx="1544" cy="311.8" r="4.45"/>
<circle cx="1581.6" cy="311.8" r="4.45"/>
<circle cx="1584.2" cy="325.3" r="4.45"/>
<circle cx="1599.4" cy="313.5" r="4.45"/>
<circle cx="1538.5" cy="353.4" r="4.45"/>
<circle cx="1554.4" cy="402.5" r="4.45"/>
<circle cx="1584.9" cy="355.3" r="4.45"/>
<circle cx="1595.8" cy="347.3" r="4.45"/>
<circle cx="1595.1" cy="353.9" r="4.45"/>
<circle cx="1598.7" cy="359.7" r="4.45"/>
<circle cx="1611.8" cy="337.9" r="4.45"/>
<circle cx="1611" cy="343" r="4.45"/>
<circle cx="1612.2" cy="326.3" r="4.45"/>
<circle cx="1621.9" cy="319.8" r="4.45"/>
<circle cx="1613.9" cy="353.9" r="4.45"/>
<circle cx="1619.7" cy="358.9" r="4.45"/>
<circle cx="1622.4" cy="348.1" r="4.45"/>
<circle cx="1597.2" cy="375.6" r="4.45"/>
<circle cx="1595.1" cy="379.3" r="4.45"/>
<circle cx="1605.2" cy="377.1" r="4.45"/>
<circle cx="1619" cy="374.2" r="4.45"/>
<circle cx="1626" cy="414.1" r="4.45"/>
<circle cx="1610.6" cy="418.9" r="4.45"/>
<circle cx="1608.1" cy="428.6" r="4.45"/>
<circle cx="1607.7" cy="440.9" r="4.45"/>
<circle cx="1590" cy="430.1" r="4.45"/>
<circle cx="1587.8" cy="434.4" r="4.45"/>
<circle cx="1650.2" cy="423.5" r="4.45"/>
<circle cx="1664.7" cy="431.5" r="4.45"/>
<circle cx="1682.6" cy="431.5" r="4.45"/>
<circle cx="1668.4" cy="419.2" r="4.45"/>
<circle cx="1674.2" cy="411.9" r="4.45"/>
<circle cx="1687.2" cy="407.3" r="4.45"/>
<circle cx="1695.2" cy="401" r="4.45"/>
<circle cx="1701" cy="406.1" r="4.45"/>
<circle cx="1698.5" cy="419.2" r="4.45"/>
<circle cx="1694.5" cy="427.2" r="4.45"/>
<circle cx="1707.5" cy="441.7" r="4.45"/>
<circle cx="1719.2" cy="430.8" r="4.45"/>
<circle cx="1815.4" cy="319" r="4.45"/>
<circle cx="1792.9" cy="313.2" r="4.45"/>
<circle cx="1806" cy="345.2" r="4.45"/>
<circle cx="1776.5" cy="329.2" r="4.45"/>
<circle cx="1770.4" cy="317.6" r="4.45"/>
<circle cx="1779.4" cy="343" r="4.45"/>
<circle cx="1763.9" cy="345.9" r="4.45"/>
<circle cx="1756.6" cy="339.3" r="4.45"/>
<circle cx="1751.5" cy="348.8" r="4.45"/>
<circle cx="1764.6" cy="353.9" r="4.45"/>
<circle cx="1758.1" cy="355.3" r="4.45"/>
<circle cx="1748.2" cy="358.2" r="4.45"/>
<circle cx="1759.2" cy="362.6" r="4.45"/>
<circle cx="1752.2" cy="370.6" r="4.45"/>
<circle cx="1772.3" cy="380" r="4.45"/>
<circle cx="1798.4" cy="381.4" r="4.45"/>
<circle cx="1738.2" cy="391.3" r="4.45"/>
<circle cx="1750.1" cy="391.2" r="4.45"/>
<circle cx="1743.3" cy="406.1" r="4.45"/>
<circle cx="1725.8" cy="421.3" r="4.45"/>
<circle cx="1721.5" cy="431.5" r="4.45"/>
<circle cx="1742.4" cy="435.6" r="4.45"/>
<circle cx="1766" cy="437.6" r="4.45"/>
<circle cx="1702.2" cy="406.1" r="4.45"/>
<circle cx="1700" cy="419.2" r="4.45"/>
<circle cx="1706.5" cy="441.7" r="4.45"/>
<circle cx="1713" cy="442.4" r="4.45"/>
<circle cx="1705.8" cy="391.6" r="4.45"/>
<circle cx="1714.5" cy="375.6" r="4.45"/>
<circle cx="1708.7" cy="380" r="4.45"/>
<circle cx="1702.9" cy="384.3" r="4.45"/>
<circle cx="1588.1" cy="434.6" r="4.45"/>
<circle cx="1608" cy="430" r="4.45"/>
<circle cx="1607.5" cy="441" r="4.45"/>
<circle cx="1664.5" cy="432.5" r="4.45"/>
<circle cx="1695.1" cy="430.6" r="4.45"/>
<circle cx="1721.5" cy="432.1" r="4.45"/>
<circle cx="1742.6" cy="435.3" r="4.45"/>
<circle cx="1765.9" cy="437.8" r="4.45"/>
<circle cx="1706.8" cy="442.7" r="4.45"/>
<circle cx="1713.1" cy="443.7" r="4.45"/>
<circle cx="1669.8" cy="451.1" r="4.45"/>
<circle cx="1695.6" cy="450.5" r="4.45"/>
<circle cx="1714.8" cy="453.2" r="4.45"/>
<circle cx="1728.9" cy="454.9" r="4.45"/>
<circle cx="1753.2" cy="456" r="4.45"/>
<circle cx="1624" cy="462.1" r="4.45"/>
<circle cx="1641.3" cy="471.2" r="4.45"/>
<circle cx="1670.2" cy="468" r="4.45"/>
<circle cx="1711.6" cy="468" r="4.45"/>
<circle cx="1679.3" cy="476.4" r="4.45"/>
<circle cx="1685.6" cy="479" r="4.45"/>
<circle cx="1660.3" cy="479" r="4.45"/>
<circle cx="1657.2" cy="482.3" r="4.45"/>
<circle cx="1614.9" cy="481.7" r="4.45"/>
<circle cx="1609.7" cy="495.9" r="4.45"/>
<circle cx="1645.5" cy="497.5" r="4.45"/>
<circle cx="1758.5" cy="491.2" r="4.45"/>
<circle cx="1645.5" cy="520.3" r="4.45"/>
<circle cx="1709.5" cy="520.1" r="4.45"/>
<circle cx="1701.5" cy="522.9" r="4.45"/>
<circle cx="1696.6" cy="526.5" r="4.45"/>
<circle cx="1697.3" cy="533" r="4.45"/>
<circle cx="1642.4" cy="543.3" r="4.45"/>
<circle cx="1600.8" cy="552" r="4.45"/>
<circle cx="1699.8" cy="556.2" r="4.45"/>
<circle cx="1676.8" cy="560.2" r="4.45"/>
<circle cx="1683.5" cy="562.6" r="4.45"/>
<circle cx="1719.4" cy="582" r="4.45"/>
<circle cx="1694.1" cy="592.1" r="4.45"/>
<circle cx="1731.2" cy="596.1" r="4.45"/>
<circle cx="1745.4" cy="611.1" r="4.45"/>
<circle cx="1592.1" cy="623.8" r="4.45"/>
<circle cx="1630.1" cy="637.3" r="4.45"/>
<circle cx="1707.3" cy="653.3" r="4.45"/>
<circle cx="1666.6" cy="663.8" r="4.45"/>
<circle cx="1660.5" cy="665.1" r="4.45"/>
<circle cx="1652.7" cy="671.2" r="4.45"/>
<circle cx="1669.7" cy="735.7" r="4.45"/>
<circle cx="1637.8" cy="748.3" r="4.45"/>
<circle cx="1649.3" cy="753.7" r="4.45"/>
<circle cx="1622.2" cy="791.7" r="4.45"/>
<circle cx="1708" cy="887" r="4.45"/>
<circle cx="1636.8" cy="911.4" r="4.45"/>
</g>
<g class="m">
<circle cx="1201.9" cy="241.4" r="4.45"/>
<circle cx="1236.2" cy="241.4" r="4.45"/>
<circle cx="1200.6" cy="283.4" r="4.45"/>
<circle cx="1250.7" cy="297.6" r="4.45"/>
<circle cx="1270" cy="329.3" r="4.45"/>
<circle cx="1318.8" cy="287.9" r="4.45"/>
<circle cx="1334.4" cy="297.6" r="4.45"/>
<circle cx="1300.3" cy="400.5" r="4.45"/>
<circle cx="1424.4" cy="233" r="4.45"/>
<circle cx="1410.9" cy="240.9" r="4.45"/>
<circle cx="1416.4" cy="240.9" r="4.45"/>
<circle cx="1396.6" cy="251.5" r="4.45"/>
<circle cx="1387.9" cy="267" r="4.45"/>
<circle cx="1406.1" cy="262.8" r="4.45"/>
<circle cx="1415.4" cy="274.7" r="4.45"/>
<circle cx="1375.3" cy="279.2" r="4.45"/>
<circle cx="1379.2" cy="282.1" r="4.45"/>
<circle cx="1432.5" cy="268.1" r="4.45"/>
<circle cx="1438.9" cy="268.6" r="4.45"/>
<circle cx="1443.6" cy="270.2" r="4.45"/>
<circle cx="1433.3" cy="277" r="4.45"/>
<circle cx="1428" cy="367" r="4.45"/>
<circle cx="1440.2" cy="364.9" r="4.45"/>
<circle cx="1438.9" cy="374.7" r="4.45"/>
<circle cx="1571.8" cy="195.3" r="4.45"/>
<circle cx="1559.9" cy="201.5" r="4.45"/>
<circle cx="1530.5" cy="211.7" r="4.45"/>
<circle cx="1568.2" cy="224.7" r="4.45"/>
<circle cx="1564.6" cy="228.4" r="4.45"/>
<circle cx="1593.6" cy="227.6" r="4.45"/>
<circle cx="1598.7" cy="233.5" r="4.45"/>
<circle cx="1602.3" cy="240" r="4.45"/>
<circle cx="1588.5" cy="238.5" r="4.45"/>
<circle cx="1592.2" cy="246.5" r="4.45"/>
<circle cx="1569.4" cy="240" r="4.45"/>
<circle cx="1578.4" cy="245.8" r="4.45"/>
<circle cx="1547.9" cy="240" r="4.45"/>
<circle cx="1537.7" cy="242.2" r="4.45"/>
<circle cx="1538.5" cy="248.7" r="4.45"/>
<circle cx="1563.1" cy="252.3" r="4.45"/>
<circle cx="1581.3" cy="254.5" r="4.45"/>
<circle cx="1592.9" cy="256" r="4.45"/>
<circle cx="1544.3" cy="257.4" r="4.45"/>
<circle cx="1544.3" cy="262.5" r="4.45"/>
<circle cx="1560.2" cy="262.5" r="4.45"/>
<circle cx="1566" cy="263.9" r="4.45"/>
<circle cx="1587.8" cy="262.5" r="4.45"/>
<circle cx="1598.7" cy="264.7" r="4.45"/>
<circle cx="1627" cy="255.7" r="4.45"/>
<circle cx="1595.1" cy="274.8" r="4.45"/>
<circle cx="1535.6" cy="276.7" r="4.45"/>
<circle cx="1558.8" cy="277.7" r="4.45"/>
<circle cx="1553" cy="282.8" r="4.45"/>
<circle cx="1546.4" cy="286.4" r="4.45"/>
<circle cx="1579.8" cy="282.8" r="4.45"/>
<circle cx="1621.2" cy="285.7" r="4.45"/>
<circle cx="1546.4" cy="300.2" r="4.45"/>
<circle cx="1501.5" cy="262.5" r="4.45"/>
<circle cx="1502.2" cy="269.7" r="4.45"/>
<circle cx="1502.2" cy="279.9" r="4.45"/>
<circle cx="1498.6" cy="295.3" r="4.45"/>
<circle cx="1492.2" cy="241.6" r="4.45"/>
<circle cx="1484.9" cy="248.1" r="4.45"/>
<circle cx="1479.5" cy="277.3" r="4.45"/>
<circle cx="1567.1" cy="312.1" r="4.45"/>
<circle cx="1529.8" cy="338.9" r="4.45"/>
<circle cx="1500.7" cy="362.6" r="4.45"/>
<circle cx="1864.7" cy="227.6" r="4.45"/>
<circle cx="1814.2" cy="255.5" r="4.45"/>
<circle cx="1840.1" cy="276" r="4.45"/>
<circle cx="1840.2" cy="303" r="4.45"/>
</g>
<g class="b">
<circle cx="1386.1" cy="295.8" r="4.45"/>
<circle cx="1283.5" cy="323.2" r="4.45"/>
<circle cx="1409.8" cy="331.9" r="4.45"/>
<circle cx="1361.8" cy="342" r="4.45"/>
<circle cx="1295.6" cy="359.6" r="4.45"/>
<circle cx="1363.4" cy="386.8" r="4.45"/>
<circle cx="1379.2" cy="391.8" r="4.45"/>
<circle cx="1356.5" cy="397.9" r="4.45"/>
<circle cx="1288.2" cy="409.8" r="4.45"/>
<circle cx="1438.6" cy="422.4" r="4.45"/>
<circle cx="1194.3" cy="436.1" r="4.45"/>
<circle cx="1286.9" cy="448" r="4.45"/>
<circle cx="1397.2" cy="481.5" r="4.45"/>
<circle cx="1468.4" cy="386" r="4.45"/>
<circle cx="1468.4" cy="394" r="4.45"/>
<circle cx="1275.8" cy="500.9" r="4.45"/>
<circle cx="1374" cy="542" r="4.45"/>
<circle cx="1284.5" cy="590.6" r="4.45"/>
<circle cx="1170.3" cy="595.9" r="4.45"/>
<circle cx="1453.9" cy="620.7" r="4.45"/>
<circle cx="1112.2" cy="643.6" r="4.45"/>
<circle cx="1463.9" cy="655.3" r="4.45"/>
<circle cx="1461.6" cy="718" r="4.45"/>
<circle cx="1308.8" cy="726.7" r="4.45"/>
<circle cx="1283.7" cy="814.1" r="4.45"/>
<circle cx="1253.9" cy="845.3" r="4.45"/>
<circle cx="1555.2" cy="314.7" r="4.45"/>
<circle cx="1566.8" cy="315" r="4.45"/>
<circle cx="1578.4" cy="321.2" r="4.45"/>
<circle cx="1555.9" cy="327" r="4.45"/>
<circle cx="1519.3" cy="345.4" r="4.45"/>
<circle cx="1512.3" cy="357.5" r="4.45"/>
<circle cx="1506.1" cy="360.8" r="4.45"/>
<circle cx="1505.8" cy="373.9" r="4.45"/>
<circle cx="1555.6" cy="365.8" r="4.45"/>
<circle cx="1587.1" cy="373.7" r="4.45"/>
<circle cx="1557.8" cy="396.7" r="4.45"/>
<circle cx="1516.3" cy="426.4" r="4.45"/>
<circle cx="1508.3" cy="433.7" r="4.45"/>
<circle cx="1551" cy="458.1" r="4.45"/>
<circle cx="1538.3" cy="455.3" r="4.45"/>
<circle cx="1582" cy="467.4" r="4.45"/>
<circle cx="1586.6" cy="545.7" r="4.45"/>
<circle cx="1578.8" cy="549.9" r="4.45"/>
<circle cx="1568.2" cy="577.1" r="4.45"/>
<circle cx="1590" cy="576.3" r="4.45"/>
<circle cx="1522.4" cy="503.1" r="4.45"/>
<circle cx="1608.5" cy="731.7" r="4.45"/>
<circle cx="1492.5" cy="290.7" r="4.45"/>
</g>
<path d="M1666.6 664.5L1718.2 692.3" stroke="#a785fb" stroke-width="1.9" fill="none"/>
<text class="lab" fill="#cc309c" stroke="#cc309c" x="1120.8" y="252.3">HARS</text>
<text class="lab" fill="#cc309c" stroke="#cc309c" x="1244" y="246.5">MSTO1</text>
<text class="lab" fill="#cc309c" stroke="#cc309c" x="1091.6" y="311.1">RABGGTA</text>
<text class="lab" fill="#cc309c" stroke="#cc309c" x="1242.3" y="288.2">JTB</text>
<text class="lab" fill="#cc309c" stroke="#cc309c" x="1299.5" y="279.5">TAF1</text>
<text class="lab" fill="#cc309c" stroke="#cc309c" x="1184.4" y="354.7">HSPA5</text>
<text class="lab" fill="#cc309c" stroke="#cc309c" x="1274.3" y="390.3">NSF</text>
<text class="lab" fill="#cc309c" stroke="#cc309c" x="1412.4" y="217.9">ATP6V0E2</text>
<text class="lab" fill="#a785fb" stroke="#a785fb" x="1587.6" y="139.8">NANOG</text>
<text class="lab" fill="#1f04ee" stroke="#1f04ee" x="1158.3" y="470.7">UBAP1</text>
<text class="lab" fill="#1f04ee" stroke="#1f04ee" x="1302.8" y="461.7">TRAPPC3</text>
<text class="lab" fill="#1f04ee" stroke="#1f04ee" x="1423.1" y="475.3">ATP6V1F</text>
<text class="lab" fill="#1f04ee" stroke="#1f04ee" x="1393.8" y="511.4">USP8</text>
<text class="lab" fill="#1f04ee" stroke="#1f04ee" x="1236.1" y="530.5">TRAPPC1</text>
<text class="lab" fill="#1f04ee" stroke="#1f04ee" x="1478" y="533.4">GMPPB</text>
<text class="lab" fill="#1f04ee" stroke="#1f04ee" x="1361" y="576">SCFD1</text>
<text class="lab" fill="#1f04ee" stroke="#1f04ee" x="1455.2" y="583.5">HMGCS1</text>
<text class="lab" fill="#1f04ee" stroke="#1f04ee" x="1594" y="599.6">LONP1</text>
<text class="lab" fill="#1f04ee" stroke="#1f04ee" x="1136.9" y="579.8">DDX39B</text>
<text class="lab" fill="#1f04ee" stroke="#1f04ee" x="1256.4" y="624.3">HMGCR</text>
<text class="lab" fill="#1f04ee" stroke="#1f04ee" x="1469.7" y="626.8">ATP6V1A</text>
<text class="lab" fill="#1f04ee" stroke="#1f04ee" x="1120.7" y="665.6">CHMP2A</text>
<text class="lab" fill="#1f04ee" stroke="#1f04ee" x="1467.8" y="680">VPS36</text>
<text class="lab" fill="#1f04ee" stroke="#1f04ee" x="1544" y="727.6">TTC1</text>
<text class="lab" fill="#1f04ee" stroke="#1f04ee" x="1436.9" y="750.3">ATP6V1B2</text>
<text class="lab" fill="#1f04ee" stroke="#1f04ee" x="1308.2" y="763.5">RNASEK</text>
<text class="lab" fill="#1f04ee" stroke="#1f04ee" x="1305.7" y="834">ATP6V1H</text>
<text class="lab" fill="#1f04ee" stroke="#1f04ee" x="1193.1" y="882">ATP6V1C1</text>
<text class="lab" fill="#a785fb" stroke="#a785fb" x="1722" y="673.3">VPS54</text>
<text class="lab" fill="#a785fb" stroke="#a785fb" x="1724.8" y="708.5">EXOC3</text>
<text class="lab" fill="#a785fb" stroke="#a785fb" x="1621.8" y="701.9">MVD</text>
<text class="lab" fill="#a785fb" stroke="#a785fb" x="1682.3" y="747.1">EXOC7</text>
<text class="lab" fill="#a785fb" stroke="#a785fb" x="1654.8" y="778.5">TBCE</text>
<text class="lab" fill="#a785fb" stroke="#a785fb" x="1608.7" y="823.5">ATP6AP1</text>
<text class="lab" fill="#a785fb" stroke="#a785fb" x="1722" y="896.1">SOD1</text>
<text class="lab" fill="#a785fb" stroke="#a785fb" x="1636.2" y="937.2">VBP1</text>
<rect x="1077.6" y="94.7" width="321.3" height="121.6" fill="none" stroke="#000" stroke-width="1.8"/>
<text class="leg" fill="#1f04ee" stroke="#1f04ee" x="1086.4" y="119.3">FDR &lt; 0.1, both screens</text>
<text class="leg" fill="#cc309c" stroke="#cc309c" x="1086.4" y="149.4">FDR &lt; 0.1, in vivo</text>
<text class="leg" fill="#a785fb" stroke="#a785fb" x="1086.4" y="179.6">FDR &lt; 0.1, iPSC neurons</text>
<text class="leg" fill="#000" stroke="#000" x="1086.4" y="209.8">Non-hits (FDR &gt; 0.1)</text>
<rect x="1073.7" y="90.3" width="859.5" height="860" fill="none" stroke="#333" stroke-width="1.6"/>
<g stroke="#333" stroke-width="1.9" fill="none">
<path d="M1078 950.3v7.3"/>
<path d="M1384 950.3v7.3"/>
<path d="M1690 950.3v7.3"/>
<path d="M1073.7 97.8h-7.3"/>
<path d="M1073.7 252.5h-7.3"/>
<path d="M1073.7 407.2h-7.3"/>
<path d="M1073.7 561.9h-7.3"/>
<path d="M1073.7 716.6h-7.3"/>
<path d="M1073.7 871.3h-7.3"/>
</g>
<text class="ax" text-anchor="middle" x="1078" y="982.7"><tspan dy="2.1">−</tspan><tspan dy="-2.1">1.0</tspan></text>
<text class="ax" text-anchor="middle" x="1384" y="982.7"><tspan dy="2.1">−</tspan><tspan dy="-2.1">0.5</tspan></text>
<text class="ax" text-anchor="middle" x="1690" y="982.7">0.0</text>
<text class="ax" text-anchor="end" x="1059.6" y="107.1">1</text>
<text class="ax" text-anchor="end" x="1059.6" y="261.8">0</text>
<text class="ax" text-anchor="end" x="1059.6" y="416.5"><tspan dy="2.1">−</tspan><tspan dy="-2.1">1</tspan></text>
<text class="ax" text-anchor="end" x="1059.6" y="571.2"><tspan dy="2.1">−</tspan><tspan dy="-2.1">2</tspan></text>
<text class="ax" text-anchor="end" x="1059.6" y="725.9"><tspan dy="2.1">−</tspan><tspan dy="-2.1">3</tspan></text>
<text class="ax" text-anchor="end" x="1059.6" y="880.6"><tspan dy="2.1">−</tspan><tspan dy="-2.1">4</tspan></text>
<text class="t" x="1135.8" y="1012.5">Knockdown decreases survival</text>
<text class="t" x="1250.4" y="1053.4">Knockdown phenotype (φ) in vivo (M1 and M3)</text>
<text class="t" style="font-size:25.17px;white-space:pre" transform="translate(966.5 915.8) rotate(-90)" xml:space="preserve">Knockdown phenotype (φ)  human iPSC-derived neurons (H1 and H3)</text>
<text class="t" transform="translate(1014.4 843.4) rotate(-90)">Knockdown decreases survival</text>
<g fill="#000" stroke="none">
<rect x="1005" y="175" width="4.2" height="286"/>
<path d="M1007.1 159.2L1019.3 183.2H994.9Z"/>
<path d="M1007.1 477L1019.3 453H994.9Z"/>
<rect x="995" y="250.4" width="25.2" height="4.2"/>
<rect x="1518" y="1000.4" width="256" height="4.2"/>
<path d="M1502 1002.6L1526.2 990.4V1014.8Z"/>
<path d="M1790.9 1002.6L1766.7 990.4V1014.8Z"/>
<rect x="1689.1" y="990.4" width="4.2" height="24.8"/>
</g>
</g>
</svg>
</body></html>
